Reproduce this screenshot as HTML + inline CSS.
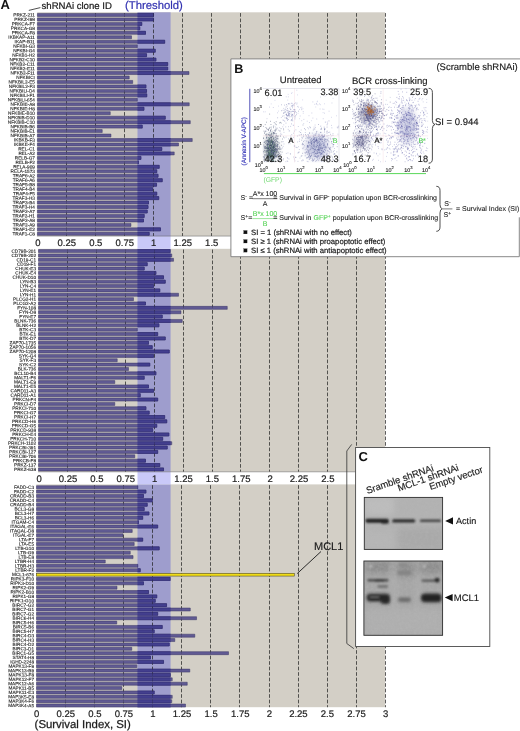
<!DOCTYPE html>
<html lang="en"><head><meta charset="utf-8"><title>Survival Index shRNAi screen</title>
<style>html,body{margin:0;padding:0;background:#fff}svg{display:block;opacity:0.999;font-family:"Liberation Sans",Arial,Helvetica,sans-serif;text-rendering:geometricPrecision}.rl{font-size:47.0px;fill:#222;stroke:#222;stroke-width:1.2px;text-anchor:end}.ax{font-size:9.5px;fill:#222;stroke:#222;stroke-width:0.2px;text-anchor:middle}.t95{font-size:9.5px;fill:#1a1a1a;stroke:#1a1a1a;stroke-width:0.15px}.f7{font-size:7px;fill:#1a1a1a;stroke:#1a1a1a;stroke-width:0.1px}.f75{font-size:7.7px;fill:#1a1a1a;stroke:#1a1a1a;stroke-width:0.2px}.tk{font-size:5.4px;fill:#222;stroke:#222;stroke-width:0.12px}.g{fill:#58d458;stroke:#58d458;stroke-width:0.1px}</style></head><body>
<svg width="520" height="731" viewBox="0 0 520 731">
<defs><filter id="b03" x="-5%" y="-5%" width="110%" height="110%"><feGaussianBlur stdDeviation="0.42"/></filter><filter id="b1" x="-20%" y="-50%" width="140%" height="200%"><feGaussianBlur stdDeviation="0.9"/></filter><filter id="b15" x="-20%" y="-60%" width="140%" height="220%"><feGaussianBlur stdDeviation="1.2"/></filter><filter id="nz" x="0" y="0" width="100%" height="100%"><feTurbulence type="fractalNoise" baseFrequency="0.35" numOctaves="2" seed="3" result="t"/><feColorMatrix type="matrix" values="0 0 0 0 0.5  0 0 0 0 0.5  0 0 0 0 0.5  0.9 0 0 0 -0.32"/><feGaussianBlur stdDeviation="0.5"/></filter><filter id="b2" x="-30%" y="-60%" width="160%" height="220%"><feGaussianBlur stdDeviation="1.6"/></filter><filter id="b3" x="-30%" y="-30%" width="160%" height="160%"><feGaussianBlur stdDeviation="3"/></filter><clipPath id="cband"><rect x="137.5" y="0" width="33.1" height="731"/></clipPath><clipPath id="cb1"><rect x="364.3" y="497.4" width="78.3" height="52"/></clipPath><clipPath id="cb2"><rect x="363.9" y="561" width="78.7" height="74.3"/></clipPath><clipPath id="cs1"><rect x="262.6" y="88.3" width="76.6" height="74.4"/></clipPath><clipPath id="cs2"><rect x="351.8" y="88.3" width="76.6" height="74.4"/></clipPath></defs>
<rect width="520" height="731" fill="#fff"/>
<rect x="37.2" y="12.3" width="347.9" height="223.7" fill="#d3cfc6"/>
<rect x="137.5" y="12.3" width="33.1" height="223.7" fill="#9e9dcd"/>
<path d="M66.5 13.1V236M95.5 13.1V236M124.5 13.1V236M153.5 13.1V236M182.5 13.1V236M211.5 13.1V236M240.5 13.1V236M269.5 13.1V236M298.5 13.1V236M327.5 13.1V236M356.5 13.1V236M385.5 13.1V236" stroke="#1c1c1c" stroke-width="1" stroke-dasharray="3.6 1.9" fill="none" opacity="0.62"/>
<path fill="#605a93" stroke="#3b3765" stroke-width="0.5" d="M37.4 13.45H153.52V16.45H37.4ZM37.4 17.92H153.52V20.92H37.4ZM37.4 22.38H141.77V25.38H37.4ZM37.4 26.85H139.79V29.85H37.4ZM37.4 31.32H145.49V34.32H37.4ZM37.4 35.78H131.53V38.78H37.4ZM37.4 40.25H164.68V43.25H37.4ZM37.4 44.72H137.23V47.72H37.4ZM37.4 49.19H155.26V52.19H37.4ZM37.4 53.65H146.54V56.65H37.4ZM37.4 58.12H155.96V61.12H37.4ZM37.4 62.59H167.7V65.59H37.4ZM37.4 67.05H167.7V70.05H37.4ZM37.4 71.52H188.99V74.52H37.4ZM37.4 75.99H129.21V78.99H37.4ZM37.4 80.45H132.7V83.45H37.4ZM37.4 84.92H145.96V87.92H37.4ZM37.4 89.39H146.54V92.39H37.4ZM37.4 93.86H146.77V96.86H37.4ZM37.4 98.32H137.23V101.32H37.4ZM37.4 102.79H189.22V105.79H37.4ZM37.4 107.26H143.98V110.26H37.4ZM37.4 111.72H110.25V114.72H37.4ZM37.4 116.19H165.26V119.19H37.4ZM37.4 120.66H190.27V123.66H37.4ZM37.4 125.12H142.23V128.12H37.4ZM37.4 129.59H102.23V132.59H37.4ZM37.4 134.06H110.95V137.06H37.4ZM37.4 138.53H192.24V141.53H37.4ZM37.4 142.99H178.52V145.99H37.4ZM37.4 147.46H161.77V150.46H37.4ZM37.4 151.93H174.22V154.93H37.4ZM37.4 156.39H140.95V159.39H37.4ZM37.4 160.86H138.51V163.86H37.4ZM37.4 165.33H159.21V168.33H37.4ZM37.4 169.79H156.77V172.79H37.4ZM37.4 174.26H158.05V177.26H37.4ZM37.4 178.73H162.24V181.73H37.4ZM37.4 183.2H156.54V186.2H37.4ZM37.4 187.66H152.7V190.66H37.4ZM37.4 192.13H156.77V195.13H37.4ZM37.4 196.6H158.75V199.6H37.4ZM37.4 201.06H148.51V204.06H37.4ZM37.4 205.53H148.05V208.53H37.4ZM37.4 210H147.23V213H37.4ZM37.4 214.46H144.21V217.46H37.4ZM37.4 218.93H143.51V221.93H37.4ZM37.4 223.4H130.95V226.4H37.4ZM37.4 227.87H160.49V230.87H37.4ZM37.4 232.33H149.21V235.33H37.4Z"/>
<path fill="#433f8e" stroke="#2c2972" stroke-width="0.5" clip-path="url(#cband)" d="M37.4 13.45H153.52V16.45H37.4ZM37.4 17.92H153.52V20.92H37.4ZM37.4 22.38H141.77V25.38H37.4ZM37.4 26.85H139.79V29.85H37.4ZM37.4 31.32H145.49V34.32H37.4ZM37.4 35.78H131.53V38.78H37.4ZM37.4 40.25H164.68V43.25H37.4ZM37.4 44.72H137.23V47.72H37.4ZM37.4 49.19H155.26V52.19H37.4ZM37.4 53.65H146.54V56.65H37.4ZM37.4 58.12H155.96V61.12H37.4ZM37.4 62.59H167.7V65.59H37.4ZM37.4 67.05H167.7V70.05H37.4ZM37.4 71.52H188.99V74.52H37.4ZM37.4 75.99H129.21V78.99H37.4ZM37.4 80.45H132.7V83.45H37.4ZM37.4 84.92H145.96V87.92H37.4ZM37.4 89.39H146.54V92.39H37.4ZM37.4 93.86H146.77V96.86H37.4ZM37.4 98.32H137.23V101.32H37.4ZM37.4 102.79H189.22V105.79H37.4ZM37.4 107.26H143.98V110.26H37.4ZM37.4 111.72H110.25V114.72H37.4ZM37.4 116.19H165.26V119.19H37.4ZM37.4 120.66H190.27V123.66H37.4ZM37.4 125.12H142.23V128.12H37.4ZM37.4 129.59H102.23V132.59H37.4ZM37.4 134.06H110.95V137.06H37.4ZM37.4 138.53H192.24V141.53H37.4ZM37.4 142.99H178.52V145.99H37.4ZM37.4 147.46H161.77V150.46H37.4ZM37.4 151.93H174.22V154.93H37.4ZM37.4 156.39H140.95V159.39H37.4ZM37.4 160.86H138.51V163.86H37.4ZM37.4 165.33H159.21V168.33H37.4ZM37.4 169.79H156.77V172.79H37.4ZM37.4 174.26H158.05V177.26H37.4ZM37.4 178.73H162.24V181.73H37.4ZM37.4 183.2H156.54V186.2H37.4ZM37.4 187.66H152.7V190.66H37.4ZM37.4 192.13H156.77V195.13H37.4ZM37.4 196.6H158.75V199.6H37.4ZM37.4 201.06H148.51V204.06H37.4ZM37.4 205.53H148.05V208.53H37.4ZM37.4 210H147.23V213H37.4ZM37.4 214.46H144.21V217.46H37.4ZM37.4 218.93H143.51V221.93H37.4ZM37.4 223.4H130.95V226.4H37.4ZM37.4 227.87H160.49V230.87H37.4ZM37.4 232.33H149.21V235.33H37.4Z"/>
<path d="M66.5 13.1V236M95.5 13.1V236M124.5 13.1V236M153.5 13.1V236M182.5 13.1V236M211.5 13.1V236M240.5 13.1V236M269.5 13.1V236M298.5 13.1V236M327.5 13.1V236M356.5 13.1V236M385.5 13.1V236" stroke="#1c1c1c" stroke-width="1" stroke-dasharray="3.6 1.9" fill="none" opacity="0.22"/>
<g class="rl" transform="matrix(0.1 0.0005 0 0.1 0 -0.13)">
<text x="349" y="165.5">PRKZ-211</text>
<text x="349" y="210.17">PRKZ-I98</text>
<text x="349" y="254.84">PRKCA-F7</text>
<text x="349" y="299.51">PRKCA-G8</text>
<text x="349" y="344.18">PRKCA-F8</text>
<text x="349" y="388.85">IKBKAP-A11</text>
<text x="349" y="433.52">IKAP-B11</text>
<text x="349" y="478.19">NFKBI-G3</text>
<text x="349" y="522.86">NFKBI-G4</text>
<text x="349" y="567.53">NFKB1-H2</text>
<text x="349" y="612.2">NFKB2-C10</text>
<text x="349" y="656.87">NFKB2-C11</text>
<text x="349" y="701.54">NFKB2-E11</text>
<text x="349" y="746.21">NFKB2-F11</text>
<text x="349" y="790.88">NFKBICI</text>
<text x="349" y="835.55">NFKBIL2-E5</text>
<text x="349" y="880.22">NFKBIL2-F3</text>
<text x="349" y="924.89">NFKBILI-D4</text>
<text x="349" y="969.56">NFKBILI-F1</text>
<text x="349" y="1014.23">NFKBILI-654</text>
<text x="349" y="1058.9">NFKBIE-A8</text>
<text x="349" y="1103.57">NFKBIE-H8</text>
<text x="349" y="1148.24">NFKBIE-B10</text>
<text x="349" y="1192.91">NFKBIB-D10</text>
<text x="349" y="1237.58">NFKBIB-C10</text>
<text x="349" y="1282.25">NFKBIB-B6</text>
<text x="349" y="1326.92">NFKBIB-E1</text>
<text x="349" y="1371.59">NFKBIB-A7</text>
<text x="349" y="1416.26">IKBKB-F3</text>
<text x="349" y="1460.93">IKBKE-F4</text>
<text x="349" y="1505.6">REL-C1</text>
<text x="349" y="1550.27">REL-A2</text>
<text x="349" y="1594.94">RELB-G7</text>
<text x="349" y="1639.61">RELB-F2</text>
<text x="349" y="1684.28">RELA-909</text>
<text x="349" y="1728.95">RELA-1573</text>
<text x="349" y="1773.62">TRAF6-A2</text>
<text x="349" y="1818.29">TRAF6-A6</text>
<text x="349" y="1862.96">TRAF5-B8</text>
<text x="349" y="1907.63">TRAF4-B4</text>
<text x="349" y="1952.3">TRAF4-F5</text>
<text x="349" y="1996.97">TRAF3-H3</text>
<text x="349" y="2041.64">TRAF3-B4</text>
<text x="349" y="2086.31">TRAF3-H4</text>
<text x="349" y="2130.98">TRAF2-A7</text>
<text x="349" y="2175.65">TRAF2-H1</text>
<text x="349" y="2220.32">TRAF2-A8</text>
<text x="349" y="2264.99">TRAF2-A9</text>
<text x="349" y="2309.66">TRAF1-E2</text>
<text x="349" y="2354.33">TRAF1-C8</text>
</g>
<rect x="38.3" y="248.8" width="346.8" height="222.9" fill="#d3cfc6"/>
<rect x="137.5" y="248.8" width="33.1" height="222.9" fill="#9e9dcd"/>
<path d="M67.5 249.6V471.7M96.5 249.6V471.7M125.5 249.6V471.7M154.5 249.6V471.7M183.5 249.6V471.7M212.5 249.6V471.7M240.5 249.6V471.7M269.5 249.6V471.7M298.5 249.6V471.7M327.5 249.6V471.7M356.5 249.6V471.7M385.5 249.6V471.7" stroke="#1c1c1c" stroke-width="1" stroke-dasharray="3.6 1.9" fill="none" opacity="0.62"/>
<path fill="#605a93" stroke="#3b3765" stroke-width="0.5" d="M38.5 249.6H170.26V252.6H38.5ZM38.5 253.97H171.77V256.97H38.5ZM38.5 258.33H173.52V261.33H38.5ZM38.5 262.7H147.23V265.7H38.5ZM38.5 267.06H144.21V270.06H38.5ZM38.5 271.43H155.96V274.43H38.5ZM38.5 275.8H163.52V278.8H38.5ZM38.5 280.16H165.26V283.16H38.5ZM38.5 284.53H153.52V287.53H38.5ZM38.5 288.89H159.8V291.89H38.5ZM38.5 293.26H178.52V296.26H38.5ZM38.5 297.63H133.51V300.63H38.5ZM38.5 301.99H145.49V304.99H38.5ZM38.5 306.36H227.25V309.36H38.5ZM38.5 310.72H180.96V313.72H38.5ZM38.5 315.09H162.24V318.09H38.5ZM38.5 319.46H182.24V322.46H38.5ZM38.5 323.82H158.98V326.82H38.5ZM38.5 328.19H137.23V331.19H38.5ZM38.5 332.55H157.7V335.55H38.5ZM38.5 336.92H165.26V339.92H38.5ZM38.5 341.29H148.51V344.29H38.5ZM38.5 345.65H152.24V348.65H38.5ZM38.5 350.02H169.22V353.02H38.5ZM38.5 354.38H153.52V357.38H38.5ZM38.5 358.75H117.23V361.75H38.5ZM38.5 363.12H149.79V366.12H38.5ZM38.5 367.48H128.51V370.48H38.5ZM38.5 371.85H155.96V374.85H38.5ZM38.5 376.21H144.21V379.21H38.5ZM38.5 380.58H114.79V383.58H38.5ZM38.5 384.95H148.51V387.95H38.5ZM38.5 389.31H153.52V392.31H38.5ZM38.5 393.68H140.26V396.68H38.5ZM38.5 398.04H157.7V401.04H38.5ZM38.5 402.41H114.79V405.41H38.5ZM38.5 406.78H145.96V409.78H38.5ZM38.5 411.14H149.21V414.14H38.5ZM38.5 415.51H164.68V418.51H38.5ZM38.5 419.87H166.77V422.87H38.5ZM38.5 424.24H156.77V427.24H38.5ZM38.5 428.61H152.7V431.61H38.5ZM38.5 432.97H168.87V435.97H38.5ZM38.5 437.34H162.7V440.34H38.5ZM38.5 441.7H171.77V444.7H38.5ZM38.5 446.07H167.24V449.07H38.5ZM38.5 450.44H157.7V453.44H38.5ZM38.5 454.8H134.79V457.8H38.5ZM38.5 459.17H145.49V462.17H38.5ZM38.5 463.53H159.8V466.53H38.5ZM38.5 467.9H163.52V470.9H38.5Z"/>
<path fill="#433f8e" stroke="#2c2972" stroke-width="0.5" clip-path="url(#cband)" d="M38.5 249.6H170.26V252.6H38.5ZM38.5 253.97H171.77V256.97H38.5ZM38.5 258.33H173.52V261.33H38.5ZM38.5 262.7H147.23V265.7H38.5ZM38.5 267.06H144.21V270.06H38.5ZM38.5 271.43H155.96V274.43H38.5ZM38.5 275.8H163.52V278.8H38.5ZM38.5 280.16H165.26V283.16H38.5ZM38.5 284.53H153.52V287.53H38.5ZM38.5 288.89H159.8V291.89H38.5ZM38.5 293.26H178.52V296.26H38.5ZM38.5 297.63H133.51V300.63H38.5ZM38.5 301.99H145.49V304.99H38.5ZM38.5 306.36H227.25V309.36H38.5ZM38.5 310.72H180.96V313.72H38.5ZM38.5 315.09H162.24V318.09H38.5ZM38.5 319.46H182.24V322.46H38.5ZM38.5 323.82H158.98V326.82H38.5ZM38.5 328.19H137.23V331.19H38.5ZM38.5 332.55H157.7V335.55H38.5ZM38.5 336.92H165.26V339.92H38.5ZM38.5 341.29H148.51V344.29H38.5ZM38.5 345.65H152.24V348.65H38.5ZM38.5 350.02H169.22V353.02H38.5ZM38.5 354.38H153.52V357.38H38.5ZM38.5 358.75H117.23V361.75H38.5ZM38.5 363.12H149.79V366.12H38.5ZM38.5 367.48H128.51V370.48H38.5ZM38.5 371.85H155.96V374.85H38.5ZM38.5 376.21H144.21V379.21H38.5ZM38.5 380.58H114.79V383.58H38.5ZM38.5 384.95H148.51V387.95H38.5ZM38.5 389.31H153.52V392.31H38.5ZM38.5 393.68H140.26V396.68H38.5ZM38.5 398.04H157.7V401.04H38.5ZM38.5 402.41H114.79V405.41H38.5ZM38.5 406.78H145.96V409.78H38.5ZM38.5 411.14H149.21V414.14H38.5ZM38.5 415.51H164.68V418.51H38.5ZM38.5 419.87H166.77V422.87H38.5ZM38.5 424.24H156.77V427.24H38.5ZM38.5 428.61H152.7V431.61H38.5ZM38.5 432.97H168.87V435.97H38.5ZM38.5 437.34H162.7V440.34H38.5ZM38.5 441.7H171.77V444.7H38.5ZM38.5 446.07H167.24V449.07H38.5ZM38.5 450.44H157.7V453.44H38.5ZM38.5 454.8H134.79V457.8H38.5ZM38.5 459.17H145.49V462.17H38.5ZM38.5 463.53H159.8V466.53H38.5ZM38.5 467.9H163.52V470.9H38.5Z"/>
<path d="M67.5 249.6V471.7M96.5 249.6V471.7M125.5 249.6V471.7M154.5 249.6V471.7M183.5 249.6V471.7M212.5 249.6V471.7M240.5 249.6V471.7M269.5 249.6V471.7M298.5 249.6V471.7M327.5 249.6V471.7M356.5 249.6V471.7M385.5 249.6V471.7" stroke="#1c1c1c" stroke-width="1" stroke-dasharray="3.6 1.9" fill="none" opacity="0.22"/>
<g class="rl" transform="matrix(0.1 0.0005 0 0.1 0 -0.13)">
<text x="360" y="2527">CD79B-201</text>
<text x="360" y="2570.66">CD79B-202</text>
<text x="360" y="2614.32">CD19-C1</text>
<text x="360" y="2657.98">CD19-F1</text>
<text x="360" y="2701.64">CHUK-E3</text>
<text x="360" y="2745.3">CHUK-E4</text>
<text x="360" y="2788.96">CHUK-D10</text>
<text x="360" y="2832.62">LYN-B3</text>
<text x="360" y="2876.28">LYN-C4</text>
<text x="360" y="2919.94">LYN-E1</text>
<text x="360" y="2963.6">LYN-H1</text>
<text x="360" y="3007.26">PLCG2-H1</text>
<text x="360" y="3050.92">PLCG2-A2</text>
<text x="360" y="3094.58">FYN-108</text>
<text x="360" y="3138.24">FYN-D8</text>
<text x="360" y="3181.9">FYN-E7</text>
<text x="360" y="3225.56">BLNK-736</text>
<text x="360" y="3269.22">BLNK-H2</text>
<text x="360" y="3312.88">BTK-C3</text>
<text x="360" y="3356.54">BTK-E1</text>
<text x="360" y="3400.2">BTK-D7</text>
<text x="360" y="3443.86">ZAP70-1735</text>
<text x="360" y="3487.52">ZAP70-1056</text>
<text x="360" y="3531.18">ZAP70-1208</text>
<text x="360" y="3574.84">SYK-G4</text>
<text x="360" y="3618.5">SYK-F3</text>
<text x="360" y="3662.16">SYK-C2</text>
<text x="360" y="3705.82">BLK-736</text>
<text x="360" y="3749.48">BCL10-B4</text>
<text x="360" y="3793.14">MALT1-F6</text>
<text x="360" y="3836.8">MALT1-E9</text>
<text x="360" y="3880.46">MALT1-E5</text>
<text x="360" y="3924.12">CARD11-A3</text>
<text x="360" y="3967.78">CARD11-A1</text>
<text x="360" y="4011.44">PRKCN-F4</text>
<text x="360" y="4055.1">PRKCI-D7</text>
<text x="360" y="4098.76">PRKCI-710</text>
<text x="360" y="4142.42">PRKCI-G7</text>
<text x="360" y="4186.08">PRKCI-H7</text>
<text x="360" y="4229.74">PRKCD-H6</text>
<text x="360" y="4273.4">PRKCD-G5</text>
<text x="360" y="4317.06">PRKCD-938</text>
<text x="360" y="4360.72">PRKCH-E4</text>
<text x="360" y="4404.38">PRKCH-710</text>
<text x="360" y="4448.04">PRKCH-1102</text>
<text x="360" y="4491.7">PRKCBI-391</text>
<text x="360" y="4535.36">PRKCBI-127</text>
<text x="360" y="4579.02">PRKCBI-706</text>
<text x="360" y="4622.68">PRKCB-F8</text>
<text x="360" y="4666.34">PRKZ-137</text>
<text x="360" y="4710">PRKZ-638</text>
</g>
<rect x="36.3" y="484.4" width="348.8" height="222.8" fill="#d3cfc6"/>
<rect x="137.5" y="484.4" width="33.1" height="222.8" fill="#9e9dcd"/>
<path d="M65.5 485.2V707.2M94.5 485.2V707.2M123.5 485.2V707.2M152.5 485.2V707.2M181.5 485.2V707.2M210.5 485.2V707.2M239.5 485.2V707.2M269.5 485.2V707.2M298.5 485.2V707.2M327.5 485.2V707.2M356.5 485.2V707.2M385.5 485.2V707.2" stroke="#1c1c1c" stroke-width="1" stroke-dasharray="3.6 1.9" fill="none" opacity="0.62"/>
<path fill="#605a93" stroke="#3b3765" stroke-width="0.5" d="M36.5 485.75H137.7V488.75H36.5ZM36.5 490.12H145.96V493.12H36.5ZM36.5 494.48H143.51V497.48H36.5ZM36.5 498.85H152.24V501.85H36.5ZM36.5 503.21H147.23V506.21H36.5ZM36.5 507.58H144.21V510.58H36.5ZM36.5 511.95H148.98V514.95H36.5ZM36.5 516.31H142.7V519.31H36.5ZM36.5 520.68H138.51V523.68H36.5ZM36.5 525.04H157.7V528.04H36.5ZM36.5 529.41H132.23V532.41H36.5ZM36.5 533.78H123.04V536.78H36.5ZM36.5 538.14H142.7V541.14H36.5ZM36.5 542.51H134.21V545.51H36.5ZM36.5 546.87H159.21V549.87H36.5ZM36.5 551.24H130.26V554.24H36.5ZM36.5 555.61H133.05V558.61H36.5ZM36.5 559.97H105.25V562.97H36.5ZM36.5 564.34H137.7V567.34H36.5ZM36.5 568.7H140.26V571.7H36.5ZM36.5 577.44H170.26V580.44H36.5ZM36.5 581.8H143.51V584.8H36.5ZM36.5 586.17H117V589.17H36.5ZM36.5 590.53H148.51V593.53H36.5ZM36.5 594.9H156.77V597.9H36.5ZM36.5 599.27H155.26V602.27H36.5ZM36.5 603.63H166.54V606.63H36.5ZM36.5 608H190.27V611H36.5ZM36.5 612.36H157.7V615.36H36.5ZM36.5 616.73H196.55V619.73H36.5ZM36.5 621.1H116.76V624.1H36.5ZM36.5 625.46H162.24V628.46H36.5ZM36.5 629.83H154.21V632.83H36.5ZM36.5 634.19H194.8V637.19H36.5ZM36.5 638.56H174.8V641.56H36.5ZM36.5 642.93H169.22V645.93H36.5ZM36.5 647.29H131.77V650.29H36.5ZM36.5 651.66H228.53V654.66H36.5ZM36.5 656.02H150.49V659.02H36.5ZM36.5 660.39H163.52V663.39H36.5ZM36.5 664.76H136.77V667.76H36.5ZM36.5 669.12H189.8V672.12H36.5ZM36.5 673.49H170.49V676.49H36.5ZM36.5 677.85H172.24V680.85H36.5ZM36.5 682.22H187.24V685.22H36.5ZM36.5 686.59H121.77V689.59H36.5ZM36.5 690.95H154.21V693.95H36.5ZM36.5 695.32H172.24V698.32H36.5ZM36.5 699.68H171.77V702.68H36.5ZM36.5 704.05H185.5V707.05H36.5Z"/>
<path fill="#433f8e" stroke="#2c2972" stroke-width="0.5" clip-path="url(#cband)" d="M36.5 485.75H137.7V488.75H36.5ZM36.5 490.12H145.96V493.12H36.5ZM36.5 494.48H143.51V497.48H36.5ZM36.5 498.85H152.24V501.85H36.5ZM36.5 503.21H147.23V506.21H36.5ZM36.5 507.58H144.21V510.58H36.5ZM36.5 511.95H148.98V514.95H36.5ZM36.5 516.31H142.7V519.31H36.5ZM36.5 520.68H138.51V523.68H36.5ZM36.5 525.04H157.7V528.04H36.5ZM36.5 529.41H132.23V532.41H36.5ZM36.5 533.78H123.04V536.78H36.5ZM36.5 538.14H142.7V541.14H36.5ZM36.5 542.51H134.21V545.51H36.5ZM36.5 546.87H159.21V549.87H36.5ZM36.5 551.24H130.26V554.24H36.5ZM36.5 555.61H133.05V558.61H36.5ZM36.5 559.97H105.25V562.97H36.5ZM36.5 564.34H137.7V567.34H36.5ZM36.5 568.7H140.26V571.7H36.5ZM36.5 577.44H170.26V580.44H36.5ZM36.5 581.8H143.51V584.8H36.5ZM36.5 586.17H117V589.17H36.5ZM36.5 590.53H148.51V593.53H36.5ZM36.5 594.9H156.77V597.9H36.5ZM36.5 599.27H155.26V602.27H36.5ZM36.5 603.63H166.54V606.63H36.5ZM36.5 608H190.27V611H36.5ZM36.5 612.36H157.7V615.36H36.5ZM36.5 616.73H196.55V619.73H36.5ZM36.5 621.1H116.76V624.1H36.5ZM36.5 625.46H162.24V628.46H36.5ZM36.5 629.83H154.21V632.83H36.5ZM36.5 634.19H194.8V637.19H36.5ZM36.5 638.56H174.8V641.56H36.5ZM36.5 642.93H169.22V645.93H36.5ZM36.5 647.29H131.77V650.29H36.5ZM36.5 651.66H228.53V654.66H36.5ZM36.5 656.02H150.49V659.02H36.5ZM36.5 660.39H163.52V663.39H36.5ZM36.5 664.76H136.77V667.76H36.5ZM36.5 669.12H189.8V672.12H36.5ZM36.5 673.49H170.49V676.49H36.5ZM36.5 677.85H172.24V680.85H36.5ZM36.5 682.22H187.24V685.22H36.5ZM36.5 686.59H121.77V689.59H36.5ZM36.5 690.95H154.21V693.95H36.5ZM36.5 695.32H172.24V698.32H36.5ZM36.5 699.68H171.77V702.68H36.5ZM36.5 704.05H185.5V707.05H36.5Z"/>
<path d="M65.5 485.2V707.2M94.5 485.2V707.2M123.5 485.2V707.2M152.5 485.2V707.2M181.5 485.2V707.2M210.5 485.2V707.2M239.5 485.2V707.2M269.5 485.2V707.2M298.5 485.2V707.2M327.5 485.2V707.2M356.5 485.2V707.2M385.5 485.2V707.2" stroke="#1c1c1c" stroke-width="1" stroke-dasharray="3.6 1.9" fill="none" opacity="0.22"/>
<rect x="36.3" y="573.37" width="257.96" height="2.7" fill="#f0dc18" stroke="#4a4420" stroke-width="0.55"/>
<g class="rl" transform="matrix(0.1 0.0005 0 0.1 0 -0.13)">
<text x="340" y="4888.5">FADD-C3</text>
<text x="340" y="4932.16">FADD-C2</text>
<text x="340" y="4975.82">CRADD-B3</text>
<text x="340" y="5019.48">CRADD-C4</text>
<text x="340" y="5063.14">CRADD-B4</text>
<text x="340" y="5106.8">BCL3-G8</text>
<text x="340" y="5150.46">BCL3-H7</text>
<text x="340" y="5194.12">BCL3-H6</text>
<text x="340" y="5237.78">ITGAM-C4</text>
<text x="340" y="5281.44">ITAGAL-E6</text>
<text x="340" y="5325.1">ITAGAL-D8</text>
<text x="340" y="5368.76">ITGAL-E7</text>
<text x="340" y="5412.42">LTA-F7</text>
<text x="340" y="5456.08">LTA-E5</text>
<text x="340" y="5499.74">LTB-G10</text>
<text x="340" y="5543.4">LTB-G9</text>
<text x="340" y="5587.06">LTB-E8</text>
<text x="340" y="5630.72">LTBR-H4</text>
<text x="340" y="5674.38">LTBR-H3</text>
<text x="340" y="5718.04">LTBR-F2</text>
<text x="340" y="5761.7">MCL1-676</text>
<text x="340" y="5805.36">RIPK3-F10</text>
<text x="340" y="5849.02">RIPK3-D10</text>
<text x="340" y="5892.68">RIPK2-G9</text>
<text x="340" y="5936.34">RIPK2-B10</text>
<text x="340" y="5980">RIPK1-G8</text>
<text x="340" y="6023.66">RIPK1-G10</text>
<text x="340" y="6067.32">BIRC7-G2</text>
<text x="340" y="6110.98">BIRC7-G1</text>
<text x="340" y="6154.64">BIRC7-G2</text>
<text x="340" y="6198.3">BIRC6-H4</text>
<text x="340" y="6241.96">BIRC5-H6</text>
<text x="340" y="6285.62">BIRC5-B6</text>
<text x="340" y="6329.28">BIRC5-H7</text>
<text x="340" y="6372.94">BIRC4-D3</text>
<text x="340" y="6416.6">BIRC4-H3</text>
<text x="340" y="6460.26">BIRC4-D2</text>
<text x="340" y="6503.92">BIRC3-D1</text>
<text x="340" y="6547.58">BIRC1-G5</text>
<text x="340" y="6591.24">STAT4-H8</text>
<text x="340" y="6634.9">IGHD-2248</text>
<text x="340" y="6678.56">MAPK13-F9</text>
<text x="340" y="6722.22">MAPK13-B9</text>
<text x="340" y="6765.88">MAPK13-F8</text>
<text x="340" y="6809.54">MAPK12-F7</text>
<text x="340" y="6853.2">MAPK12-A6</text>
<text x="340" y="6896.86">MAPK11-B5</text>
<text x="340" y="6940.52">MAPK11-E3</text>
<text x="340" y="6984.18">MAP3K5-E8</text>
<text x="340" y="7027.84">MAP3K4-F6</text>
<text x="340" y="7071.5">MAP3K4-A5</text>
</g>
<rect x="137.5" y="236" width="33.1" height="12.8" fill="#c9c9f8"/>
<rect x="137.5" y="471.7" width="33.1" height="12.7" fill="#c9c9f8"/>
<path d="M37 236.1H231M38 471.8H356" stroke="#5a5a5a" stroke-width="0.5" fill="none"/>
<g class="ax">
<text x="37.8" y="246">0</text>
<text x="66.78" y="246">0.25</text>
<text x="95.77" y="246">0.5</text>
<text x="124.75" y="246">0.75</text>
<text x="153.74" y="246">1</text>
<text x="182.73" y="246">1.25</text>
<text x="211.71" y="246">1.5</text>
</g>
<g class="ax">
<text x="39.1" y="482.3">0</text>
<text x="67.97" y="482.3">0.25</text>
<text x="96.85" y="482.3">0.5</text>
<text x="125.72" y="482.3">0.75</text>
<text x="154.6" y="482.3">1</text>
<text x="183.48" y="482.3">1.25</text>
<text x="212.35" y="482.3">1.5</text>
<text x="241.23" y="482.3">1.75</text>
<text x="270.1" y="482.3">2</text>
<text x="298.98" y="482.3">2.25</text>
<text x="327.85" y="482.3">2.5</text>
</g>
<g class="ax">
<text x="36.7" y="717.1">0</text>
<text x="65.77" y="717.1">0.25</text>
<text x="94.85" y="717.1">0.5</text>
<text x="123.92" y="717.1">0.75</text>
<text x="153" y="717.1">1</text>
<text x="182.08" y="717.1">1.25</text>
<text x="211.15" y="717.1">1.5</text>
<text x="240.23" y="717.1">1.75</text>
<text x="269.3" y="717.1">2</text>
<text x="298.38" y="717.1">2.25</text>
<text x="327.45" y="717.1">2.5</text>
<text x="356.52" y="717.1">2.75</text>
<text x="385.6" y="717.1">3</text>
</g>
<text x="0.6" y="8.9" font-size="13px" font-weight="bold" fill="#111">A</text>
<text x="41.5" y="9.2" font-size="9.6px" fill="#1a1a1a" stroke="#1a1a1a" stroke-width="0.2">shRNAi clone ID</text>
<path d="M28.8 10.4L40.4 7.6" stroke="#222" stroke-width="0.8"/>
<text x="125" y="8.9" font-size="11.3px" fill="#3030b0" stroke="#3030b0" stroke-width="0.2">(Threshold)</text>
<text x="34.6" y="728.3" font-size="11.4px" fill="#1a1a1a" stroke="#1a1a1a" stroke-width="0.25">(Survival Index, SI)</text>
<path d="M297.2 573.6L321 551.5" stroke="#222" stroke-width="0.95"/>
<text x="314" y="550.4" font-size="11px" fill="#1a1a1a" stroke="#1a1a1a" stroke-width="0.15">MCL1</text>
<rect x="230.9" y="58.9" width="289.6" height="197.8" fill="#fff"/><path d="M520.5 58.9H230.9V256.7H519.3V217.3" fill="none" stroke="#7c7c7c" stroke-width="0.9"/>
<text x="234.2" y="73.1" font-size="12.6px" font-weight="bold" fill="#111">B</text>
<text x="436.4" y="70" class="t95">(Scramble shRNAi)</text>
<text x="279.8" y="83.4" class="t95">Untreated</text>
<text x="352" y="84.4" class="t95">BCR cross-linking</text>
<g clip-path="url(#cs1)">
<g filter="url(#b3)" opacity="0.5"><ellipse cx="271" cy="148" rx="6" ry="12" fill="#4a5a6a"/><ellipse cx="317" cy="147" rx="11" ry="12" fill="#8a8fc0"/></g>
<g filter="url(#b03)">
<path d="M269.9 153.6h0.75M270.0 145.3h0.75M266.9 146.4h0.75M275.9 152.7h0.75M275.6 151.0h0.75M272.7 150.4h0.75M263.7 157.1h0.75M273.2 153.5h0.75M263.6 131.1h0.75M267.1 143.8h0.75M272.3 148.0h0.75M273.3 142.1h0.75M272.4 152.4h0.75M273.4 160.5h0.75M268.3 141.1h0.75M269.5 147.4h0.75M273.8 151.0h0.75M269.0 138.9h0.75M268.7 160.7h0.75M267.4 150.9h0.75M272.9 133.6h0.75M271.2 161.6h0.75M270.5 140.3h0.75M273.2 147.9h0.75M264.6 156.8h0.75M273.9 158.0h0.75M277.3 152.1h0.75M271.5 135.5h0.75M273.7 142.4h0.75M269.0 135.9h0.75M266.7 143.2h0.75M276.7 128.2h0.75M264.6 150.9h0.75M277.4 154.3h0.75M272.6 141.1h0.75M266.1 158.3h0.75M275.8 150.1h0.75M272.1 152.8h0.75M278.0 154.7h0.75M273.3 154.0h0.75M264.1 161.3h0.75M275.2 153.8h0.75M274.7 130.4h0.75M270.2 158.7h0.75M273.4 147.0h0.75M272.4 155.0h0.75M271.5 160.0h0.75M268.1 144.4h0.75M275.6 148.8h0.75M267.1 158.0h0.75M277.4 144.1h0.75M264.9 147.2h0.75M270.3 145.5h0.75M277.2 138.2h0.75M276.5 135.8h0.75M267.5 154.8h0.75M276.0 157.1h0.75M272.5 149.9h0.75M271.7 154.3h0.75M270.2 151.3h0.75M273.5 148.5h0.75M274.4 154.2h0.75M279.8 151.7h0.75M269.1 144.8h0.75M270.9 157.7h0.75M269.5 152.4h0.75M279.1 122.9h0.75M266.1 150.9h0.75M272.8 150.9h0.75M269.1 155.1h0.75M272.2 143.3h0.75M281.7 152.1h0.75M268.6 147.5h0.75M270.0 147.9h0.75M275.4 136.8h0.75M270.7 158.0h0.75M263.5 145.0h0.75M269.5 154.7h0.75M275.8 121.7h0.75M275.8 134.0h0.75M274.0 133.6h0.75M271.8 160.4h0.75M270.3 150.4h0.75M274.5 149.9h0.75M275.6 145.6h0.75M283.1 137.0h0.75M275.0 145.8h0.75M271.6 155.6h0.75M272.0 154.9h0.75M264.3 133.4h0.75M273.7 138.9h0.75M266.5 133.8h0.75M276.6 156.0h0.75M277.5 139.1h0.75M271.0 137.1h0.75M275.3 146.7h0.75M270.6 142.5h0.75M272.8 152.6h0.75M277.6 138.3h0.75M277.4 146.7h0.75M267.7 158.7h0.75M271.5 149.7h0.75M277.3 145.9h0.75M262.8 156.7h0.75M272.4 142.4h0.75M271.0 156.8h0.75M271.3 161.8h0.75M270.7 158.9h0.75M268.0 157.3h0.75M265.6 148.4h0.75M270.2 148.2h0.75M268.4 150.8h0.75M278.9 148.9h0.75M273.3 158.5h0.75M270.1 135.9h0.75M268.6 159.2h0.75M263.8 142.5h0.75M275.4 156.4h0.75M271.0 156.6h0.75M271.7 136.7h0.75M264.1 142.1h0.75M275.1 142.8h0.75M267.0 140.8h0.75M264.3 147.3h0.75M265.8 152.1h0.75M268.2 129.1h0.75M274.2 145.7h0.75M272.3 143.9h0.75M274.4 156.0h0.75M273.9 151.8h0.75M276.9 155.1h0.75M273.0 127.7h0.75M274.9 161.6h0.75M269.7 143.8h0.75M279.5 130.9h0.75M266.9 155.4h0.75M279.3 147.3h0.75M273.5 157.5h0.75M267.0 147.6h0.75M272.3 156.8h0.75M270.8 146.5h0.75M266.5 144.9h0.75M274.9 149.5h0.75M267.2 140.1h0.75M282.7 159.9h0.75M273.8 122.6h0.75M273.7 153.3h0.75M278.4 152.8h0.75M270.7 153.7h0.75M272.4 141.5h0.75M264.8 141.8h0.75M272.3 150.3h0.75M269.2 138.8h0.75M280.3 158.9h0.75M265.7 135.0h0.75M278.5 158.4h0.75M279.0 156.6h0.75M267.2 151.1h0.75M270.7 153.7h0.75M267.8 147.3h0.75M273.0 152.3h0.75M273.8 150.6h0.75M269.6 156.4h0.75M271.2 140.2h0.75M268.2 148.5h0.75M270.5 150.1h0.75M271.0 150.3h0.75M270.4 135.9h0.75M272.9 159.0h0.75M272.9 146.6h0.75M273.0 138.8h0.75M266.9 155.9h0.75M266.2 122.2h0.75M269.3 134.8h0.75M267.6 153.7h0.75M273.2 150.3h0.75M277.5 155.6h0.75M270.9 154.5h0.75M278.3 158.2h0.75M275.5 137.7h0.75M270.3 155.8h0.75M269.7 159.2h0.75M273.6 157.6h0.75M276.5 146.3h0.75M269.5 157.2h0.75M275.3 148.6h0.75M265.9 150.4h0.75M272.6 159.8h0.75M274.4 148.7h0.75M274.8 153.9h0.75M271.9 149.1h0.75M269.9 155.4h0.75M266.4 142.2h0.75M271.0 133.9h0.75M269.1 128.4h0.75M268.0 154.2h0.75M273.5 148.0h0.75M270.0 134.3h0.75M279.0 153.7h0.75M275.8 139.7h0.75M270.2 130.3h0.75M274.4 157.9h0.75M273.8 130.9h0.75M263.0 137.8h0.75M268.2 134.5h0.75M271.1 151.0h0.75M273.8 155.5h0.75M277.6 160.1h0.75M265.2 143.4h0.75M266.3 137.7h0.75M270.6 148.6h0.75M273.2 132.6h0.75M265.6 148.3h0.75M270.1 145.4h0.75M270.7 140.9h0.75M274.1 152.0h0.75M270.6 141.8h0.75M270.2 121.3h0.75M266.7 148.9h0.75M264.4 150.5h0.75M271.6 134.7h0.75M269.9 145.4h0.75M273.0 154.6h0.75M270.8 140.0h0.75M270.4 147.8h0.75M274.2 151.4h0.75M267.8 135.0h0.75M269.4 141.1h0.75M266.1 147.3h0.75M268.8 149.6h0.75M273.3 144.4h0.75M281.2 145.3h0.75M275.8 149.7h0.75M275.9 124.7h0.75M267.7 151.0h0.75M272.4 161.3h0.75M274.4 158.0h0.75M273.2 146.9h0.75M273.2 137.7h0.75M276.2 138.3h0.75M270.0 148.7h0.75M276.1 148.8h0.75M267.4 151.1h0.75M273.6 155.6h0.75M278.3 148.7h0.75M272.2 144.2h0.75M277.2 141.5h0.75M274.0 143.7h0.75M267.9 155.7h0.75M276.9 148.4h0.75M268.0 156.6h0.75M270.8 151.6h0.75M277.7 159.8h0.75M271.0 156.4h0.75M268.2 148.1h0.75M277.0 136.3h0.75M264.4 132.3h0.75M276.2 143.9h0.75M270.7 145.4h0.75M270.5 137.6h0.75M271.1 134.1h0.75M270.7 151.6h0.75M273.1 146.2h0.75M267.0 150.1h0.75M274.4 147.3h0.75M268.9 141.5h0.75M266.9 145.0h0.75M272.3 153.7h0.75M267.9 148.6h0.75M283.3 129.8h0.75M268.7 150.2h0.75M271.7 152.6h0.75M269.9 152.2h0.75M271.2 156.2h0.75M271.0 138.2h0.75M266.4 154.8h0.75M268.1 154.8h0.75M274.3 151.6h0.75M273.2 147.5h0.75M264.8 148.2h0.75M273.0 143.2h0.75M270.6 156.0h0.75M267.1 154.9h0.75M279.2 143.0h0.75M271.6 147.0h0.75M277.8 151.7h0.75M275.0 141.6h0.75M270.9 148.4h0.75M275.0 131.0h0.75M274.3 147.2h0.75M273.0 152.2h0.75M264.4 146.4h0.75M277.6 142.8h0.75M266.5 134.9h0.75M265.6 151.9h0.75M278.4 152.8h0.75M268.7 141.8h0.75M273.3 154.0h0.75M266.5 136.8h0.75M272.3 151.0h0.75M265.2 146.5h0.75M268.6 153.1h0.75M270.5 147.6h0.75M269.4 159.0h0.75M277.1 144.8h0.75M274.7 140.9h0.75M271.3 156.0h0.75M277.7 144.7h0.75M270.7 150.5h0.75M264.4 148.7h0.75M268.0 152.2h0.75M266.0 128.7h0.75M271.2 151.1h0.75M268.6 157.4h0.75M269.8 142.4h0.75M273.1 132.8h0.75M268.0 148.3h0.75M274.7 146.9h0.75M272.4 141.9h0.75M268.2 148.7h0.75M271.8 158.7h0.75M265.6 127.5h0.75M273.7 156.5h0.75M271.9 151.0h0.75M275.1 152.2h0.75M278.3 136.1h0.75M269.3 114.1h0.75M274.6 144.8h0.75M271.0 146.0h0.75M268.8 140.1h0.75M268.2 154.9h0.75M271.2 149.2h0.75M270.2 157.6h0.75M273.2 147.1h0.75M273.9 147.0h0.75M273.0 138.9h0.75M275.7 151.9h0.75M272.5 157.4h0.75M271.9 147.0h0.75M264.2 158.2h0.75M271.1 145.6h0.75M272.5 149.3h0.75M274.0 144.8h0.75M270.8 127.1h0.75M269.1 155.3h0.75M276.9 144.9h0.75M269.6 155.8h0.75M278.4 148.9h0.75M276.4 141.4h0.75M271.9 147.7h0.75M271.5 159.8h0.75M281.5 141.8h0.75M268.5 153.5h0.75M266.4 153.5h0.75M273.5 145.7h0.75M273.3 133.0h0.75M274.3 133.1h0.75M267.9 142.9h0.75M269.2 157.1h0.75M271.4 144.5h0.75M271.0 152.2h0.75M276.5 151.2h0.75M280.7 128.7h0.75M270.8 152.7h0.75M275.2 155.2h0.75M269.8 138.0h0.75M271.5 158.8h0.75M266.2 138.2h0.75M270.9 129.1h0.75M269.9 144.1h0.75M273.0 141.5h0.75M267.1 144.6h0.75M270.8 141.9h0.75M271.1 156.0h0.75M267.6 144.3h0.75M267.8 148.2h0.75M273.3 134.9h0.75M273.0 148.2h0.75M263.0 151.4h0.75M276.3 129.8h0.75M274.6 150.6h0.75M273.1 152.9h0.75M276.7 146.3h0.75M274.8 144.4h0.75M274.2 140.4h0.75M273.0 146.9h0.75M266.0 140.6h0.75M271.9 157.9h0.75M272.9 153.7h0.75M269.3 143.0h0.75M274.9 149.1h0.75M269.8 142.7h0.75M269.9 154.7h0.75M272.6 136.4h0.75M272.9 150.3h0.75M266.6 156.2h0.75M269.8 145.1h0.75M274.5 161.7h0.75M268.0 152.9h0.75M268.8 160.4h0.75M268.2 156.6h0.75M280.8 123.1h0.75M269.1 153.5h0.75M270.6 141.8h0.75M280.5 149.3h0.75M263.8 157.0h0.75M263.4 160.0h0.75M268.5 149.9h0.75M276.5 149.7h0.75M264.9 131.5h0.75M276.2 155.9h0.75M267.4 157.1h0.75M273.2 155.0h0.75M275.0 155.8h0.75M274.9 123.9h0.75M271.7 153.4h0.75M282.2 139.0h0.75M269.6 148.9h0.75M274.9 144.1h0.75M276.0 140.6h0.75M272.2 143.2h0.75M271.7 141.6h0.75M264.0 159.4h0.75M272.3 142.9h0.75M271.9 158.4h0.75M266.7 147.4h0.75M273.4 153.8h0.75M269.5 127.4h0.75M276.5 151.8h0.75M271.1 145.7h0.75M272.2 144.2h0.75M266.5 141.1h0.75M268.4 142.4h0.75M265.9 154.9h0.75M265.2 155.1h0.75M266.5 152.0h0.75M277.0 150.5h0.75M267.8 149.0h0.75M271.7 131.2h0.75M268.3 150.1h0.75M268.9 149.3h0.75M274.2 156.2h0.75M275.0 154.4h0.75M269.7 148.3h0.75M269.8 145.4h0.75M270.2 131.3h0.75M269.5 148.3h0.75M266.7 148.3h0.75M273.3 146.9h0.75M280.1 122.4h0.75M270.1 130.2h0.75M273.3 145.5h0.75M273.4 126.1h0.75M274.7 152.2h0.75M271.1 142.6h0.75M273.8 143.6h0.75M272.0 143.4h0.75M271.9 156.0h0.75M267.1 148.2h0.75M273.7 150.0h0.75M267.0 129.3h0.75M275.1 156.6h0.75M268.3 141.4h0.75M274.9 139.4h0.75M263.0 138.5h0.75M268.0 141.2h0.75M272.0 141.0h0.75M276.8 147.7h0.75M266.2 161.6h0.75M268.4 150.7h0.75M270.9 145.4h0.75M272.4 141.6h0.75M262.9 126.4h0.75M265.4 140.9h0.75M270.9 149.1h0.75M273.4 149.7h0.75M267.5 141.4h0.75M273.1 153.8h0.75M270.5 146.8h0.75M275.1 148.7h0.75M274.2 154.3h0.75M271.9 161.6h0.75M268.5 144.9h0.75M267.4 140.5h0.75M271.1 154.2h0.75M276.2 156.6h0.75M276.3 135.9h0.75M268.2 153.0h0.75M277.3 149.5h0.75M267.2 145.0h0.75M268.1 139.9h0.75M277.6 142.2h0.75M276.2 151.9h0.75M268.3 152.6h0.75M278.1 154.7h0.75M276.6 149.5h0.75M273.3 146.5h0.75M272.9 161.5h0.75M264.7 147.9h0.75M272.1 142.8h0.75M269.6 156.4h0.75M279.8 154.8h0.75M272.4 133.0h0.75M279.5 149.3h0.75M270.9 137.3h0.75M270.7 137.5h0.75M271.3 153.2h0.75M271.1 151.3h0.75M268.1 130.3h0.75M270.2 140.9h0.75M266.6 145.0h0.75M272.3 136.7h0.75M274.0 147.0h0.75M271.6 147.3h0.75M270.8 155.8h0.75M270.6 124.5h0.75M270.9 139.6h0.75M273.9 142.4h0.75M266.4 137.3h0.75M264.8 124.6h0.75M268.2 129.8h0.75M264.5 154.7h0.75M267.6 144.8h0.75M279.5 158.8h0.75M271.6 150.3h0.75M269.6 153.1h0.75M272.3 149.0h0.75M268.8 135.2h0.75M268.7 133.1h0.75M276.4 153.9h0.75M274.9 129.4h0.75M279.1 156.6h0.75M280.1 136.2h0.75M273.3 152.7h0.75M271.9 150.2h0.75M275.6 133.6h0.75M265.5 134.6h0.75M268.5 142.4h0.75M272.6 151.2h0.75M271.1 141.7h0.75M269.1 158.0h0.75M274.4 149.5h0.75M268.4 155.0h0.75M276.1 145.8h0.75M274.6 137.3h0.75M275.5 150.5h0.75M264.0 155.2h0.75M267.1 161.3h0.75M268.0 146.9h0.75M272.2 145.2h0.75M272.1 143.0h0.75" stroke="#3d4868" stroke-width="0.75" opacity="0.72" fill="none"/>
<path d="M272.0 151.0h0.75M271.0 133.1h0.75M273.1 151.2h0.75M266.6 151.6h0.75M271.5 158.0h0.75M268.1 161.1h0.75M270.2 155.4h0.75M269.7 143.7h0.75M272.9 156.9h0.75M273.9 156.6h0.75M269.2 140.2h0.75M269.1 146.6h0.75M268.7 154.8h0.75M271.2 149.2h0.75M270.9 150.1h0.75M271.0 155.9h0.75M272.6 146.5h0.75M267.2 160.3h0.75M270.8 158.2h0.75M266.9 148.9h0.75M270.6 141.6h0.75M269.4 155.7h0.75M272.9 161.4h0.75M268.6 141.9h0.75M271.6 157.1h0.75M270.9 142.5h0.75M272.2 156.2h0.75M271.7 147.8h0.75M271.2 156.1h0.75M269.3 139.0h0.75M271.2 154.1h0.75M270.5 156.8h0.75M269.2 150.5h0.75M269.8 154.7h0.75M274.0 149.4h0.75M275.0 160.9h0.75M272.2 154.8h0.75M274.4 149.8h0.75M270.3 144.1h0.75M271.5 159.7h0.75M271.7 153.8h0.75M270.1 152.1h0.75M267.4 157.8h0.75M269.6 143.8h0.75M268.8 145.6h0.75M272.4 157.9h0.75M267.5 157.0h0.75M272.5 147.2h0.75M267.2 146.2h0.75M269.1 153.2h0.75M269.7 137.8h0.75M271.0 141.0h0.75M272.5 143.2h0.75M269.0 145.4h0.75M269.3 159.4h0.75M272.4 154.9h0.75M271.2 140.9h0.75M269.4 147.4h0.75M268.3 154.3h0.75M268.9 146.4h0.75M268.2 137.6h0.75M271.8 159.7h0.75M270.9 144.7h0.75M264.5 152.1h0.75M273.2 152.9h0.75M272.5 160.6h0.75M273.0 148.1h0.75M272.8 156.0h0.75M267.1 148.4h0.75M267.4 150.3h0.75M271.8 144.1h0.75M266.0 159.4h0.75M271.3 160.6h0.75M267.6 157.9h0.75M270.0 152.7h0.75M270.2 157.5h0.75M272.8 151.6h0.75M267.5 155.8h0.75M269.5 155.1h0.75M271.1 161.6h0.75M273.0 148.1h0.75M269.3 153.8h0.75M273.1 159.2h0.75M271.6 142.4h0.75M267.7 152.6h0.75M268.6 158.4h0.75M272.2 140.1h0.75M268.7 152.1h0.75M269.4 150.0h0.75M271.5 145.7h0.75M271.5 146.9h0.75M269.3 154.5h0.75M269.2 152.9h0.75M274.0 151.2h0.75M270.2 155.8h0.75M269.7 158.0h0.75M267.7 155.0h0.75M269.4 145.8h0.75M274.4 145.5h0.75M274.4 155.3h0.75M273.7 144.7h0.75M273.1 160.5h0.75M270.2 150.2h0.75M275.9 152.2h0.75M269.6 146.9h0.75M271.5 153.1h0.75M269.8 154.1h0.75M273.7 144.5h0.75M267.5 143.9h0.75M268.2 139.0h0.75M271.5 138.9h0.75M271.6 160.4h0.75M266.9 148.9h0.75M266.3 156.1h0.75M268.9 149.3h0.75M270.6 154.5h0.75M269.7 151.1h0.75M269.3 151.7h0.75M267.9 151.4h0.75M266.2 147.8h0.75M274.7 151.5h0.75M267.7 152.7h0.75M268.4 140.3h0.75M268.9 155.8h0.75" stroke="#3f6a55" stroke-width="0.75" opacity="0.70" fill="none"/>
<path d="M320.8 146.1h0.75M309.6 136.8h0.75M329.0 149.3h0.75M309.4 126.9h0.75M307.7 146.3h0.75M319.3 145.5h0.75M315.1 134.0h0.75M311.1 155.0h0.75M303.1 144.4h0.75M319.7 156.8h0.75M308.0 152.7h0.75M320.8 140.0h0.75M321.6 138.5h0.75M310.7 146.8h0.75M294.4 146.0h0.75M309.0 133.1h0.75M313.9 154.2h0.75M314.1 159.0h0.75M307.6 134.5h0.75M330.7 150.8h0.75M325.5 139.1h0.75M324.3 149.5h0.75M323.0 147.2h0.75M327.8 140.8h0.75M309.3 133.0h0.75M327.4 140.0h0.75M308.6 138.1h0.75M313.7 134.9h0.75M315.0 141.0h0.75M312.8 137.9h0.75M317.8 142.6h0.75M318.5 149.4h0.75M320.4 126.2h0.75M312.9 139.4h0.75M324.1 132.0h0.75M311.4 144.2h0.75M314.6 156.4h0.75M313.7 156.2h0.75M305.0 129.8h0.75M327.9 151.1h0.75M321.6 148.2h0.75M321.6 135.4h0.75M325.6 141.9h0.75M325.9 147.8h0.75M300.7 134.8h0.75M327.1 145.7h0.75M314.1 149.3h0.75M313.9 141.8h0.75M318.4 148.4h0.75M330.4 147.4h0.75M332.1 157.1h0.75M318.6 148.3h0.75M316.3 140.1h0.75M316.9 140.9h0.75M331.4 152.1h0.75M313.7 128.8h0.75M317.0 143.0h0.75M308.3 136.2h0.75M298.4 152.4h0.75M317.2 145.6h0.75M329.8 148.3h0.75M318.9 143.5h0.75M312.4 161.2h0.75M314.5 147.3h0.75M310.0 156.2h0.75M305.7 152.4h0.75M326.8 160.4h0.75M309.5 157.4h0.75M311.4 139.8h0.75M306.3 158.0h0.75M331.5 141.4h0.75M311.0 143.8h0.75M312.9 130.0h0.75M311.8 158.3h0.75M333.4 144.5h0.75M311.6 142.2h0.75M301.5 155.6h0.75M308.3 157.1h0.75M303.0 134.9h0.75M320.0 139.7h0.75M324.1 147.1h0.75M307.5 152.9h0.75M324.7 128.8h0.75M333.0 151.7h0.75M324.0 129.3h0.75M311.4 143.7h0.75M326.7 133.1h0.75M310.0 127.7h0.75M315.5 150.3h0.75M303.2 141.4h0.75M323.1 144.1h0.75M307.5 138.1h0.75M311.9 148.4h0.75M319.9 136.8h0.75M330.6 156.0h0.75M318.4 140.1h0.75M301.6 137.3h0.75M325.2 139.4h0.75M306.3 148.9h0.75M319.6 152.8h0.75M323.1 160.4h0.75M310.4 156.3h0.75M309.1 153.6h0.75M319.0 149.3h0.75M325.7 146.8h0.75M327.0 155.3h0.75M318.7 141.6h0.75M311.1 142.0h0.75M315.8 146.8h0.75M324.0 138.8h0.75M311.5 144.0h0.75M319.1 137.2h0.75M331.2 141.6h0.75M326.7 124.8h0.75M317.4 149.6h0.75M319.1 152.7h0.75M319.9 148.5h0.75M301.4 140.2h0.75M297.6 153.0h0.75M320.1 145.1h0.75M310.5 141.5h0.75M317.0 159.2h0.75M304.0 128.6h0.75M313.4 138.7h0.75M312.7 148.8h0.75M317.9 149.6h0.75M317.2 155.8h0.75M332.6 135.2h0.75M318.9 144.5h0.75M320.5 132.4h0.75M302.6 125.0h0.75M322.0 148.8h0.75M318.1 124.5h0.75M314.3 139.8h0.75M305.5 138.3h0.75M323.4 152.2h0.75M317.3 151.9h0.75M312.4 147.7h0.75M317.8 152.3h0.75M316.9 145.6h0.75M316.4 140.9h0.75M336.5 151.9h0.75M329.4 132.2h0.75M323.4 155.0h0.75M333.5 159.5h0.75M324.1 135.8h0.75M310.1 149.6h0.75M321.8 137.3h0.75M314.2 143.2h0.75M318.0 150.2h0.75M315.1 135.3h0.75M316.6 156.7h0.75M321.3 153.3h0.75M321.6 139.7h0.75M322.4 156.6h0.75M334.4 154.1h0.75M314.6 141.3h0.75M310.6 148.1h0.75M317.2 153.4h0.75M336.8 146.7h0.75M323.2 151.5h0.75M319.8 145.0h0.75M316.5 139.2h0.75M319.0 146.8h0.75M320.2 138.9h0.75M317.8 147.5h0.75M322.6 136.9h0.75M321.1 156.3h0.75M322.6 143.5h0.75M313.3 144.8h0.75M323.7 161.8h0.75M316.2 140.9h0.75M320.7 148.9h0.75M309.8 140.0h0.75M316.6 153.4h0.75M307.4 137.3h0.75M321.7 135.4h0.75M318.4 150.3h0.75M316.6 137.3h0.75M317.0 143.8h0.75M320.4 139.0h0.75M326.8 131.1h0.75M316.0 147.1h0.75M325.7 141.2h0.75M322.1 141.6h0.75M314.1 151.2h0.75M309.6 156.2h0.75M327.8 147.3h0.75M307.9 150.8h0.75M327.3 157.4h0.75M324.4 129.6h0.75M311.7 160.5h0.75M307.1 157.7h0.75M333.5 154.2h0.75M327.0 143.8h0.75M307.1 146.0h0.75M315.8 146.5h0.75M323.4 145.6h0.75M319.1 151.0h0.75M321.3 147.8h0.75M315.7 141.1h0.75M328.9 148.4h0.75M308.3 141.7h0.75M316.3 142.8h0.75M326.7 136.0h0.75M321.7 148.4h0.75M307.5 147.5h0.75M316.7 151.8h0.75M313.7 149.9h0.75M303.3 136.7h0.75M324.2 156.9h0.75M317.4 141.3h0.75M326.7 127.1h0.75M310.7 153.4h0.75M323.0 137.2h0.75M301.5 160.8h0.75M318.8 138.5h0.75M318.0 155.6h0.75M295.5 157.5h0.75M323.8 127.2h0.75M324.1 130.1h0.75M327.2 150.8h0.75M336.6 141.2h0.75M317.5 156.9h0.75M312.1 140.3h0.75M314.3 146.3h0.75M308.3 151.6h0.75M322.1 147.7h0.75M332.0 143.9h0.75M328.6 141.8h0.75M323.9 128.6h0.75M319.2 145.3h0.75M313.3 141.2h0.75M314.5 140.2h0.75M298.9 141.3h0.75M312.8 142.0h0.75M308.5 145.7h0.75M324.2 144.6h0.75M313.3 159.9h0.75M325.8 155.8h0.75M327.3 143.9h0.75M316.4 157.6h0.75M312.8 145.9h0.75M320.7 150.5h0.75M315.2 156.3h0.75M316.0 153.9h0.75M326.6 153.3h0.75M323.7 136.0h0.75M306.4 141.1h0.75M321.5 161.3h0.75M307.1 149.9h0.75M310.2 140.0h0.75M315.2 153.6h0.75M319.3 158.2h0.75M309.1 155.4h0.75M325.4 147.7h0.75M321.6 141.6h0.75M308.2 143.2h0.75M319.2 150.0h0.75M323.8 139.6h0.75M325.3 150.6h0.75M304.6 152.7h0.75M322.2 151.3h0.75M331.0 143.1h0.75M321.9 154.1h0.75M309.8 158.4h0.75M305.2 134.6h0.75M321.9 136.7h0.75M316.5 131.4h0.75M318.1 136.2h0.75M320.4 132.4h0.75M321.3 144.5h0.75M318.0 146.4h0.75M318.6 134.4h0.75M295.7 147.3h0.75M309.5 142.7h0.75M321.1 128.1h0.75M311.0 141.2h0.75M308.5 150.1h0.75M316.3 139.2h0.75M309.1 154.7h0.75M311.9 152.6h0.75M321.3 129.0h0.75M308.3 147.0h0.75M320.4 154.4h0.75M324.3 156.8h0.75M314.3 145.0h0.75M324.1 143.0h0.75M326.5 131.9h0.75M323.1 145.4h0.75M300.8 156.3h0.75M320.1 147.2h0.75M308.3 142.6h0.75M330.4 139.1h0.75M288.0 138.9h0.75M307.3 145.7h0.75M314.2 138.3h0.75M310.3 157.0h0.75M312.9 136.6h0.75M324.2 152.4h0.75M308.6 154.1h0.75M301.9 138.2h0.75M327.1 144.6h0.75M306.4 151.9h0.75M325.3 146.8h0.75M302.1 143.7h0.75M321.1 154.3h0.75M333.3 144.6h0.75M313.4 146.6h0.75M327.8 138.1h0.75M328.6 120.9h0.75M324.3 140.6h0.75M321.4 153.5h0.75M307.4 146.2h0.75M319.5 152.6h0.75M309.6 137.6h0.75M315.9 144.9h0.75M304.8 155.8h0.75M313.0 160.6h0.75M324.7 147.2h0.75M323.7 136.4h0.75M314.7 141.5h0.75M306.7 147.2h0.75M316.3 160.6h0.75M289.0 140.6h0.75M309.7 142.6h0.75M321.1 150.8h0.75M317.7 142.5h0.75M321.7 150.4h0.75M301.8 144.5h0.75M305.8 135.8h0.75M318.7 147.6h0.75M318.5 138.7h0.75M315.8 138.3h0.75M320.7 153.5h0.75M332.4 159.0h0.75M310.7 142.7h0.75M309.5 149.9h0.75M334.3 153.7h0.75M298.8 135.1h0.75M306.5 151.9h0.75M317.5 149.8h0.75M332.6 139.1h0.75M320.4 139.6h0.75M300.3 132.5h0.75M296.7 147.6h0.75M317.9 156.4h0.75M316.3 140.4h0.75M302.5 148.7h0.75M317.7 152.9h0.75M314.1 151.7h0.75M324.4 145.6h0.75M313.6 145.2h0.75M309.3 145.0h0.75M314.9 149.0h0.75M328.9 159.4h0.75M313.7 152.7h0.75M320.0 154.2h0.75M317.7 149.5h0.75M313.5 139.5h0.75M324.9 159.3h0.75M323.1 151.1h0.75M319.8 142.7h0.75M302.3 153.3h0.75M319.2 141.7h0.75M309.3 159.1h0.75M311.4 146.8h0.75M313.2 148.5h0.75M315.7 139.9h0.75M326.6 139.5h0.75M313.2 152.3h0.75M312.9 142.9h0.75M320.5 143.5h0.75M306.9 146.0h0.75M308.2 156.2h0.75M310.8 143.6h0.75M314.7 149.6h0.75M312.1 159.6h0.75M326.0 154.7h0.75M311.0 155.6h0.75M316.6 150.4h0.75M315.2 153.3h0.75M327.0 157.7h0.75M315.8 156.5h0.75M329.8 138.1h0.75M330.0 134.3h0.75M322.1 152.6h0.75M330.1 149.6h0.75M313.4 139.4h0.75M306.9 154.3h0.75M315.5 140.2h0.75M322.0 139.7h0.75M313.8 142.6h0.75M331.6 160.9h0.75M316.2 132.1h0.75M319.9 147.7h0.75M320.5 152.4h0.75M314.8 155.8h0.75M324.6 149.0h0.75M314.0 142.4h0.75M323.4 136.6h0.75M316.1 139.9h0.75" stroke="#4a5090" stroke-width="0.75" opacity="0.62" fill="none"/>
<path d="M282.2 116.2h0.75M288.4 113.4h0.75M292.4 105.7h0.75M288.2 114.6h0.75M292.2 107.8h0.75M291.7 114.3h0.75M294.6 118.9h0.75M291.0 123.9h0.75M288.5 111.1h0.75M287.0 108.5h0.75M288.4 103.8h0.75M288.1 115.3h0.75M293.0 111.5h0.75M294.7 109.9h0.75M287.9 103.8h0.75M285.1 109.2h0.75M295.1 115.8h0.75M283.6 115.8h0.75M290.6 112.1h0.75M288.6 111.7h0.75M286.1 104.5h0.75M288.1 119.5h0.75M294.8 111.8h0.75M285.2 112.2h0.75M292.4 114.9h0.75M285.9 115.0h0.75M287.6 115.7h0.75M286.7 106.0h0.75M288.8 116.9h0.75M283.6 112.7h0.75M292.4 111.4h0.75M285.6 123.1h0.75M292.1 118.2h0.75M284.4 121.2h0.75M281.2 110.7h0.75M291.7 119.7h0.75M284.4 110.0h0.75M289.4 103.8h0.75M291.3 115.9h0.75M286.5 115.8h0.75M291.9 114.7h0.75M290.8 120.6h0.75M286.4 114.0h0.75M286.2 118.2h0.75M286.7 115.5h0.75M289.1 113.5h0.75M296.0 112.8h0.75M294.7 117.2h0.75M294.3 112.4h0.75M292.5 116.9h0.75M285.8 114.5h0.75M287.9 113.0h0.75M294.2 109.7h0.75M281.2 104.8h0.75M286.5 110.1h0.75M288.6 115.9h0.75M296.1 114.7h0.75M290.5 109.7h0.75M291.0 119.8h0.75M294.3 103.8h0.75M292.4 120.8h0.75M292.1 106.0h0.75M287.2 116.0h0.75M290.3 109.3h0.75M284.6 117.9h0.75M282.7 120.1h0.75M288.6 114.6h0.75M282.7 110.3h0.75M291.5 106.1h0.75M297.5 106.4h0.75M283.2 113.4h0.75M290.6 116.7h0.75M286.9 112.2h0.75M287.5 110.4h0.75M277.3 117.8h0.75M289.6 114.0h0.75M285.8 114.4h0.75M288.4 112.8h0.75M293.3 104.9h0.75M289.6 108.1h0.75M287.1 120.4h0.75M283.8 112.7h0.75M285.9 117.8h0.75M284.3 105.1h0.75M290.7 111.5h0.75M287.1 118.4h0.75M284.7 111.4h0.75M289.1 115.2h0.75M286.3 118.2h0.75M298.2 111.2h0.75M296.6 103.1h0.75M294.6 111.5h0.75M289.1 111.6h0.75M285.7 107.1h0.75M286.8 119.4h0.75" stroke="#5a60a0" stroke-width="0.75" opacity="0.62" fill="none"/>
<path d="M319.7 109.0h0.75M290.9 105.9h0.75M279.3 127.6h0.75M311.5 113.0h0.75M291.5 103.2h0.75M322.8 118.7h0.75M283.5 120.5h0.75M280.9 117.5h0.75M283.4 108.4h0.75M308.6 115.7h0.75M317.5 104.8h0.75M327.3 123.6h0.75M299.8 116.0h0.75M286.6 110.7h0.75M277.2 112.8h0.75M303.4 123.6h0.75M316.4 119.0h0.75M293.7 110.1h0.75M294.1 113.9h0.75M266.6 118.7h0.75M272.9 107.5h0.75M300.4 107.6h0.75M328.7 111.2h0.75M327.2 122.1h0.75M291.4 115.5h0.75M322.4 109.1h0.75M301.5 107.2h0.75M301.0 108.9h0.75M301.4 120.7h0.75M324.1 113.2h0.75M303.5 119.4h0.75M295.0 102.9h0.75M319.2 103.9h0.75M316.1 103.7h0.75M331.6 103.0h0.75M314.7 125.0h0.75M283.4 124.8h0.75M285.8 96.8h0.75M312.5 118.1h0.75M296.5 90.2h0.75M299.1 109.4h0.75M293.4 109.5h0.75M269.1 107.1h0.75M331.1 125.4h0.75M293.8 105.8h0.75M306.8 121.2h0.75M312.5 101.9h0.75M302.8 113.2h0.75M324.9 122.3h0.75M309.1 122.5h0.75M293.2 125.3h0.75M292.6 115.4h0.75M315.9 104.1h0.75M287.9 96.8h0.75M302.8 111.5h0.75M294.4 116.3h0.75M263.4 111.8h0.75M301.5 109.7h0.75M313.7 127.1h0.75M292.3 103.9h0.75" stroke="#6a70b0" stroke-width="0.75" opacity="0.50" fill="none"/>
<path d="M298.9 131.7h0.75M326.7 140.1h0.75M328.8 147.9h0.75M268.7 137.8h0.75M279.3 158.1h0.75M307.4 127.6h0.75M275.8 139.0h0.75M298.3 146.7h0.75M292.2 138.7h0.75M263.5 146.8h0.75M288.2 126.7h0.75M297.6 161.4h0.75M266.4 131.2h0.75M313.6 135.8h0.75M283.6 144.0h0.75M282.8 146.4h0.75M302.8 160.4h0.75M337.8 127.2h0.75M305.3 153.7h0.75M328.8 153.8h0.75M310.7 148.8h0.75M290.4 136.1h0.75M323.0 157.3h0.75M333.8 150.5h0.75M285.9 153.4h0.75M318.8 144.3h0.75M310.9 138.6h0.75M304.5 140.6h0.75M267.6 138.1h0.75M287.4 161.5h0.75M299.3 139.2h0.75M281.4 134.4h0.75M289.3 130.9h0.75M263.5 157.3h0.75M297.2 142.0h0.75M305.9 136.9h0.75M275.7 128.4h0.75M285.7 137.1h0.75M317.8 145.8h0.75M333.7 138.2h0.75M332.5 146.9h0.75M269.0 132.4h0.75M306.8 161.4h0.75M289.9 153.8h0.75M295.3 157.2h0.75M268.1 143.4h0.75M330.8 135.9h0.75M282.4 126.8h0.75M275.4 135.6h0.75M316.1 133.8h0.75M293.1 133.2h0.75M308.5 157.0h0.75M311.9 133.1h0.75M318.3 160.6h0.75M308.3 128.8h0.75M324.0 157.4h0.75M288.7 130.9h0.75M277.2 145.3h0.75M329.0 149.0h0.75M332.6 133.6h0.75M287.6 152.9h0.75M311.9 140.6h0.75M314.2 138.1h0.75M267.3 140.9h0.75M266.4 148.5h0.75M288.2 143.7h0.75M308.1 135.2h0.75M297.9 126.5h0.75M332.8 146.3h0.75M337.5 128.0h0.75M309.3 152.0h0.75M287.8 129.4h0.75M274.8 131.1h0.75M320.8 129.2h0.75M324.4 141.2h0.75M303.6 147.1h0.75M304.8 149.6h0.75M308.4 137.9h0.75M318.9 135.3h0.75M316.6 153.4h0.75M321.5 137.1h0.75M321.3 161.1h0.75M297.2 136.0h0.75M302.5 159.8h0.75M272.9 126.3h0.75M298.9 149.5h0.75M321.4 139.0h0.75M337.6 134.2h0.75M320.0 129.2h0.75M265.1 130.8h0.75M267.5 144.0h0.75M304.9 132.5h0.75M333.9 139.1h0.75M274.3 132.4h0.75M318.6 159.1h0.75M275.2 127.0h0.75M321.7 134.7h0.75M337.1 143.9h0.75M311.0 138.4h0.75M323.4 142.5h0.75M287.4 158.4h0.75M271.1 152.3h0.75M267.9 149.2h0.75M293.3 157.0h0.75M267.5 146.3h0.75M293.9 159.0h0.75M334.2 148.5h0.75M279.9 135.0h0.75M282.8 141.6h0.75M280.4 133.3h0.75M320.2 149.1h0.75M285.5 161.7h0.75M279.3 146.4h0.75M274.8 157.0h0.75M328.5 135.6h0.75M319.7 155.5h0.75M284.3 137.9h0.75M299.6 158.0h0.75M275.2 150.5h0.75M308.1 142.3h0.75M306.7 157.7h0.75M278.8 157.7h0.75M290.2 154.0h0.75M328.1 132.5h0.75M328.1 161.7h0.75M285.4 126.9h0.75M271.4 161.0h0.75M263.7 158.7h0.75M274.4 152.4h0.75M270.4 132.1h0.75M314.5 129.2h0.75M288.6 159.0h0.75M317.0 157.7h0.75M336.9 127.2h0.75M280.7 154.4h0.75M315.0 127.4h0.75M301.1 134.3h0.75M295.5 129.8h0.75M264.5 161.6h0.75M286.9 157.5h0.75M272.1 143.5h0.75M273.2 141.4h0.75M276.5 150.6h0.75M274.2 152.5h0.75M300.8 130.0h0.75M289.7 143.8h0.75M332.3 138.5h0.75M279.2 160.7h0.75M329.6 152.3h0.75M283.6 132.4h0.75M283.0 128.5h0.75M266.3 144.3h0.75M293.8 146.0h0.75M290.3 126.4h0.75M314.9 149.4h0.75M304.0 145.7h0.75M315.0 161.3h0.75M328.9 151.8h0.75M293.1 137.4h0.75M294.6 160.9h0.75M292.2 139.8h0.75M293.9 131.1h0.75M338.3 126.2h0.75M308.8 159.3h0.75M282.2 147.9h0.75M291.4 134.6h0.75M278.0 130.2h0.75M326.6 154.1h0.75M331.5 127.8h0.75M315.3 137.6h0.75M311.7 145.7h0.75M286.8 160.9h0.75M263.1 152.8h0.75M327.4 144.3h0.75M307.7 161.7h0.75M280.7 148.6h0.75M319.0 139.6h0.75M316.7 140.1h0.75M302.7 148.0h0.75M314.1 137.6h0.75M310.4 145.5h0.75M279.8 148.0h0.75M283.0 158.6h0.75M298.7 151.9h0.75M302.4 143.1h0.75M279.7 131.1h0.75M332.9 145.0h0.75M302.5 144.9h0.75M324.3 134.6h0.75M276.0 155.5h0.75" stroke="#5a60a0" stroke-width="0.75" opacity="0.50" fill="none"/>
<path d="M297.7 113.4h0.75M325.4 121.9h0.75M328.4 93.4h0.75M291.7 119.8h0.75M324.7 96.1h0.75M274.6 100.4h0.75M270.8 103.9h0.75M323.6 109.4h0.75M297.1 94.9h0.75M292.8 125.3h0.75M315.4 107.0h0.75M299.1 118.7h0.75M320.2 97.0h0.75M314.3 104.3h0.75M302.3 99.9h0.75M291.0 103.4h0.75M291.7 92.6h0.75M278.1 111.1h0.75M267.4 98.0h0.75M317.2 101.2h0.75M287.4 100.1h0.75M325.9 95.1h0.75M311.0 120.7h0.75M278.2 106.1h0.75M322.7 112.6h0.75M291.0 93.5h0.75M296.4 104.3h0.75M316.7 101.9h0.75M293.8 113.6h0.75M324.1 103.8h0.75M292.1 111.3h0.75M332.7 98.4h0.75M336.2 115.8h0.75M291.1 114.2h0.75M287.8 94.4h0.75M320.0 104.7h0.75M302.6 108.6h0.75M331.0 117.3h0.75M264.9 111.8h0.75M297.9 107.4h0.75" stroke="#7a80c0" stroke-width="0.75" opacity="0.45" fill="none"/>
</g></g>
<g clip-path="url(#cs2)">
<g filter="url(#b3)" opacity="0.5"><ellipse cx="368" cy="114" rx="8" ry="8" fill="#5a5a80"/><ellipse cx="360.5" cy="141" rx="5" ry="6" fill="#6a6a98"/><ellipse cx="408" cy="126" rx="8" ry="18" fill="#9a9cc8"/></g>
<g filter="url(#b03)">
<path d="M372.5 107.0h0.75M353.6 116.1h0.75M360.7 116.7h0.75M355.1 112.5h0.75M362.8 102.8h0.75M366.8 114.7h0.75M364.6 105.0h0.75M370.0 100.9h0.75M372.2 117.0h0.75M380.3 119.9h0.75M371.0 115.4h0.75M368.7 104.0h0.75M378.7 117.3h0.75M366.5 105.3h0.75M378.9 117.3h0.75M360.2 118.3h0.75M381.8 113.3h0.75M371.3 110.5h0.75M364.1 121.2h0.75M390.0 114.3h0.75M367.6 119.2h0.75M366.4 118.7h0.75M374.3 106.2h0.75M361.0 113.0h0.75M374.3 115.5h0.75M377.2 103.6h0.75M371.9 109.0h0.75M369.2 115.8h0.75M361.7 111.9h0.75M360.4 115.4h0.75M362.6 110.0h0.75M370.0 108.8h0.75M376.5 108.9h0.75M374.4 115.5h0.75M361.3 111.9h0.75M362.7 110.9h0.75M366.6 126.6h0.75M365.6 124.8h0.75M371.6 104.1h0.75M352.4 118.4h0.75M354.6 118.7h0.75M375.7 116.3h0.75M367.0 111.7h0.75M370.3 111.3h0.75M364.8 110.8h0.75M376.7 109.1h0.75M371.1 105.2h0.75M363.5 103.7h0.75M367.1 118.4h0.75M370.6 110.0h0.75M372.8 111.0h0.75M371.1 115.5h0.75M372.3 95.8h0.75M359.4 119.0h0.75M367.8 129.6h0.75M366.9 109.6h0.75M378.9 117.5h0.75M381.7 117.2h0.75M367.1 118.7h0.75M363.0 110.3h0.75M364.6 111.9h0.75M373.9 110.1h0.75M370.7 109.9h0.75M374.7 93.8h0.75M367.1 114.7h0.75M361.0 120.7h0.75M370.0 122.7h0.75M375.2 118.1h0.75M367.5 105.7h0.75M367.0 110.2h0.75M370.2 110.2h0.75M389.8 102.1h0.75M376.7 110.1h0.75M366.8 120.1h0.75M368.5 104.8h0.75M371.4 112.1h0.75M354.2 114.9h0.75M361.2 108.2h0.75M371.9 115.6h0.75M366.5 129.0h0.75M371.4 109.1h0.75M370.1 112.6h0.75M353.2 102.2h0.75M358.8 128.3h0.75M367.2 111.5h0.75M364.6 120.5h0.75M368.7 125.7h0.75M374.0 125.2h0.75M367.7 116.2h0.75M365.5 112.3h0.75M356.5 109.4h0.75M361.9 108.8h0.75M376.9 115.4h0.75M377.0 119.6h0.75M374.9 120.7h0.75M364.3 119.2h0.75M366.3 109.7h0.75M376.8 128.9h0.75M361.7 125.9h0.75M374.3 107.5h0.75M370.4 116.1h0.75M371.1 111.0h0.75M359.6 113.7h0.75M374.5 119.1h0.75M373.1 121.4h0.75M361.6 113.2h0.75M370.9 120.6h0.75M369.6 117.2h0.75M369.4 128.5h0.75M353.4 113.3h0.75M385.7 115.2h0.75M355.8 114.5h0.75M358.6 108.7h0.75M370.1 125.7h0.75M371.7 118.3h0.75M375.6 114.9h0.75M362.6 112.8h0.75M370.8 111.5h0.75M363.9 110.9h0.75M358.1 106.2h0.75M367.9 110.9h0.75M368.8 123.5h0.75M370.6 113.3h0.75M360.4 105.8h0.75M371.1 107.3h0.75M371.5 105.9h0.75M369.4 113.0h0.75M375.4 110.7h0.75M365.9 115.3h0.75M368.9 125.5h0.75M366.7 109.7h0.75M366.3 116.9h0.75M370.1 118.4h0.75M358.9 131.1h0.75M381.2 113.3h0.75M360.1 114.6h0.75M371.4 97.6h0.75M368.6 103.0h0.75M371.7 123.3h0.75M375.7 102.8h0.75M378.1 120.0h0.75M366.0 117.1h0.75M379.0 111.1h0.75M368.4 109.5h0.75M376.5 98.2h0.75M378.3 106.6h0.75M374.9 101.9h0.75M362.0 109.2h0.75M374.2 102.0h0.75M372.7 109.0h0.75M377.1 111.3h0.75M371.9 112.3h0.75M380.9 110.9h0.75M368.3 127.6h0.75M369.0 118.4h0.75M363.4 114.9h0.75M352.8 114.2h0.75M364.0 102.8h0.75M358.7 121.6h0.75M371.5 102.7h0.75M381.1 108.5h0.75M365.9 115.3h0.75M360.6 102.0h0.75M363.3 121.9h0.75M375.1 102.3h0.75M376.8 113.7h0.75M372.0 113.9h0.75M371.4 106.4h0.75M362.2 108.5h0.75M365.9 117.9h0.75M360.1 124.9h0.75M364.1 109.3h0.75M373.4 116.6h0.75M366.2 105.9h0.75M361.6 102.1h0.75M376.4 121.2h0.75M381.4 117.1h0.75M370.8 118.9h0.75M375.1 111.7h0.75M370.9 128.8h0.75M356.8 103.5h0.75M361.8 118.9h0.75M376.7 111.1h0.75M373.2 113.2h0.75M370.6 109.7h0.75M368.3 113.5h0.75M376.3 129.4h0.75M355.9 117.3h0.75M368.5 120.4h0.75M375.9 119.1h0.75M374.1 106.7h0.75M356.7 125.4h0.75M376.9 106.7h0.75M377.4 118.3h0.75M361.7 121.8h0.75M363.8 108.2h0.75M357.8 112.0h0.75M375.6 108.7h0.75M355.6 128.8h0.75M381.3 118.4h0.75M364.8 104.9h0.75M357.1 117.5h0.75M377.5 105.9h0.75M368.5 111.5h0.75M366.7 117.1h0.75M383.0 109.0h0.75M374.4 121.3h0.75M366.5 112.4h0.75M359.2 121.2h0.75M364.8 108.8h0.75M369.0 107.4h0.75M361.3 111.4h0.75M378.8 112.0h0.75M372.2 103.0h0.75M355.0 126.5h0.75M365.7 102.5h0.75M367.8 117.8h0.75M356.5 107.2h0.75M370.3 106.9h0.75M374.0 120.4h0.75M371.6 110.4h0.75M368.2 109.0h0.75M367.6 115.8h0.75M366.4 120.4h0.75M386.5 109.6h0.75M370.9 119.4h0.75M373.0 111.8h0.75M365.2 120.7h0.75M372.8 117.1h0.75M362.9 118.0h0.75M374.0 112.2h0.75M373.0 129.0h0.75M355.4 117.8h0.75M360.4 103.7h0.75M366.9 117.4h0.75M368.9 105.2h0.75M358.5 109.5h0.75M368.6 107.6h0.75M358.0 126.1h0.75M362.7 112.4h0.75M364.7 109.3h0.75M368.8 111.4h0.75M372.8 105.0h0.75M358.1 127.5h0.75M368.0 119.0h0.75M376.7 117.5h0.75M368.8 102.4h0.75M357.3 120.5h0.75M373.2 117.6h0.75M356.9 98.2h0.75M361.1 105.0h0.75M369.6 106.2h0.75M379.5 109.0h0.75M364.6 119.7h0.75M370.8 107.1h0.75M374.2 127.3h0.75M359.9 111.7h0.75M361.0 99.6h0.75M372.9 118.5h0.75M375.3 116.6h0.75M354.4 113.3h0.75M363.8 105.0h0.75M360.8 119.0h0.75M366.4 127.6h0.75M371.8 99.8h0.75M374.8 122.5h0.75M368.7 104.8h0.75M380.9 104.1h0.75M367.9 99.8h0.75M359.7 101.3h0.75M376.1 122.0h0.75M365.7 103.7h0.75M368.1 116.2h0.75M357.8 105.2h0.75M367.8 118.6h0.75M369.0 116.7h0.75M359.7 95.6h0.75M370.7 106.9h0.75M367.6 110.8h0.75M371.9 107.9h0.75M378.6 113.7h0.75M372.2 118.0h0.75M375.8 116.4h0.75M356.2 109.0h0.75M381.6 116.9h0.75M372.4 116.9h0.75M364.0 108.6h0.75M363.9 121.9h0.75M371.1 126.4h0.75M372.0 127.2h0.75M371.7 104.9h0.75M380.8 115.9h0.75M376.9 115.1h0.75M366.2 114.7h0.75M360.6 104.8h0.75M362.2 109.7h0.75M358.9 112.8h0.75M370.6 128.2h0.75M381.5 113.1h0.75M374.7 111.9h0.75M371.3 113.3h0.75M364.7 114.0h0.75M358.0 116.7h0.75M366.5 105.6h0.75M366.0 117.5h0.75M363.7 117.0h0.75M372.5 124.8h0.75M360.8 112.7h0.75M372.1 124.4h0.75M370.4 119.0h0.75M358.1 109.2h0.75M380.3 111.4h0.75M383.8 108.2h0.75M366.5 101.9h0.75M373.0 115.4h0.75M382.8 114.7h0.75M366.7 103.2h0.75M367.9 120.4h0.75M373.8 122.5h0.75M374.6 113.2h0.75M372.8 114.8h0.75M359.0 126.0h0.75M371.2 105.8h0.75M371.2 115.6h0.75M375.6 124.1h0.75M379.4 106.6h0.75M355.3 115.5h0.75M370.9 116.1h0.75M360.6 110.1h0.75M369.9 119.0h0.75M384.1 115.7h0.75M364.2 96.2h0.75M376.2 112.5h0.75M367.7 106.3h0.75M373.7 100.4h0.75M369.3 114.4h0.75M370.6 123.1h0.75M367.8 114.2h0.75M374.6 102.1h0.75M366.4 114.0h0.75M375.3 107.6h0.75M374.2 116.3h0.75M357.9 102.6h0.75M358.3 114.5h0.75M370.0 118.8h0.75M374.4 109.4h0.75M376.1 119.5h0.75M371.9 117.0h0.75M359.3 116.2h0.75M361.1 104.7h0.75M366.0 114.5h0.75M368.1 111.1h0.75M361.3 114.9h0.75M363.2 103.1h0.75M369.2 124.2h0.75M365.6 105.7h0.75M378.4 126.1h0.75M366.4 111.9h0.75M370.0 135.2h0.75M369.5 120.8h0.75M371.7 100.1h0.75M360.6 104.4h0.75M371.6 114.3h0.75M381.3 111.5h0.75M370.7 114.1h0.75M369.5 130.6h0.75M370.5 124.3h0.75M377.8 109.0h0.75M373.4 110.7h0.75M369.3 114.7h0.75M368.7 110.0h0.75M379.7 111.5h0.75M373.5 125.9h0.75M373.0 121.1h0.75M378.5 121.5h0.75M380.8 103.0h0.75M382.6 113.7h0.75M356.0 108.8h0.75M358.5 113.3h0.75M357.8 106.1h0.75M370.6 114.7h0.75M362.8 111.8h0.75M367.8 114.1h0.75M368.5 111.9h0.75M374.8 101.6h0.75M365.0 114.5h0.75M365.6 109.4h0.75M365.4 115.0h0.75M377.5 112.1h0.75M366.6 116.1h0.75M366.8 99.2h0.75M370.4 110.7h0.75M364.4 118.1h0.75M368.8 109.3h0.75M352.8 100.8h0.75M368.6 112.6h0.75M371.7 115.2h0.75M365.1 104.1h0.75M360.6 112.5h0.75M360.2 119.1h0.75M359.0 100.2h0.75M367.1 100.4h0.75M380.2 106.2h0.75M368.1 111.7h0.75M362.6 100.4h0.75M355.1 119.9h0.75M375.9 129.5h0.75M358.0 117.6h0.75M368.4 119.8h0.75M364.8 118.8h0.75M374.9 118.0h0.75M378.9 112.2h0.75M379.6 108.3h0.75M380.5 93.2h0.75M368.6 107.6h0.75M368.5 121.1h0.75M373.7 114.2h0.75M380.8 102.6h0.75M362.6 124.7h0.75M370.9 98.1h0.75M371.0 104.7h0.75M379.1 122.0h0.75M364.6 123.1h0.75M362.5 120.3h0.75M372.7 112.6h0.75M358.3 111.4h0.75M352.0 109.3h0.75M355.2 122.5h0.75M361.5 95.5h0.75M372.7 116.2h0.75M364.9 129.2h0.75M374.1 114.0h0.75M363.9 91.6h0.75M372.0 120.6h0.75M364.2 103.0h0.75M368.2 101.1h0.75M368.6 119.2h0.75M379.4 115.5h0.75M369.9 119.0h0.75M378.6 111.1h0.75M359.7 107.6h0.75M359.4 106.9h0.75M367.6 116.0h0.75M369.6 114.0h0.75M365.9 116.6h0.75M374.9 119.1h0.75M379.3 111.4h0.75M366.7 126.0h0.75M369.9 116.6h0.75M366.1 120.7h0.75M365.6 106.0h0.75M368.1 110.2h0.75M374.5 110.7h0.75M369.4 111.9h0.75M370.9 108.8h0.75M376.5 103.0h0.75M365.7 108.3h0.75M373.2 113.8h0.75M372.0 111.1h0.75M363.3 105.2h0.75M366.1 109.5h0.75M370.5 116.1h0.75M375.5 112.7h0.75M363.1 105.6h0.75M368.9 116.2h0.75M382.5 114.8h0.75M381.2 127.4h0.75M360.9 122.5h0.75M376.7 123.5h0.75M368.4 120.6h0.75M365.0 113.0h0.75M368.6 126.7h0.75M367.0 120.6h0.75M369.0 108.3h0.75M370.2 118.4h0.75M363.4 118.2h0.75M363.4 107.0h0.75M370.1 111.8h0.75M361.4 101.4h0.75M368.7 115.3h0.75M365.2 114.9h0.75M357.5 116.4h0.75M371.5 115.6h0.75M364.1 114.1h0.75M369.4 121.4h0.75M370.5 115.4h0.75M363.3 119.9h0.75M376.9 109.8h0.75M373.1 115.8h0.75M368.2 104.0h0.75M381.1 99.7h0.75M370.7 110.7h0.75M376.7 110.4h0.75M368.8 118.0h0.75M371.8 109.7h0.75M373.4 116.4h0.75M375.6 109.7h0.75M368.2 110.6h0.75M362.5 115.4h0.75M371.4 124.0h0.75M366.2 116.4h0.75M376.7 112.7h0.75M369.0 114.5h0.75M363.5 106.2h0.75M376.5 114.8h0.75M368.0 104.3h0.75M369.3 122.2h0.75M360.2 106.9h0.75M376.5 124.1h0.75M379.6 109.4h0.75M372.8 108.0h0.75M372.2 110.8h0.75M369.9 123.4h0.75M370.9 111.7h0.75M368.9 115.5h0.75M364.8 115.0h0.75M372.8 125.0h0.75M353.7 104.7h0.75M359.6 119.9h0.75M386.0 114.9h0.75M369.4 121.9h0.75M364.9 109.9h0.75M370.9 109.2h0.75M376.5 113.5h0.75M371.2 132.2h0.75M365.3 120.3h0.75M362.6 122.7h0.75M375.4 114.5h0.75M375.6 125.3h0.75M378.3 113.5h0.75M368.1 121.6h0.75M358.0 109.1h0.75M372.0 117.7h0.75M381.8 126.4h0.75M370.8 116.7h0.75M359.1 112.1h0.75M370.4 111.8h0.75M368.9 118.0h0.75M361.7 109.3h0.75M355.8 121.9h0.75M361.0 101.0h0.75M374.0 111.9h0.75M375.4 110.8h0.75M383.6 118.7h0.75M369.6 114.3h0.75M367.0 119.4h0.75M382.7 110.4h0.75M360.8 117.9h0.75M376.1 102.6h0.75M363.6 106.2h0.75M372.5 117.2h0.75M363.3 105.3h0.75M373.4 98.5h0.75M373.1 112.4h0.75M382.1 120.8h0.75M364.4 111.5h0.75" stroke="#4a4a80" stroke-width="0.75" opacity="0.68" fill="none"/>
<path d="M368.8 108.6h0.75M369.7 113.0h0.75M365.6 109.9h0.75M373.3 112.4h0.75M367.4 108.4h0.75M367.3 106.4h0.75M372.4 110.7h0.75M367.7 106.8h0.75M368.5 109.2h0.75M373.9 109.3h0.75M369.8 113.2h0.75M371.2 110.0h0.75M363.9 114.1h0.75M371.0 109.4h0.75M369.3 108.1h0.75M367.2 106.7h0.75M370.8 111.8h0.75M369.9 112.5h0.75M370.9 110.8h0.75M367.2 112.0h0.75M372.5 112.1h0.75M372.7 109.3h0.75M367.0 113.7h0.75M368.0 111.1h0.75M369.0 110.6h0.75M368.8 109.1h0.75M364.9 115.4h0.75M370.0 105.6h0.75M367.2 107.6h0.75M367.6 104.0h0.75M371.0 114.7h0.75M368.9 112.4h0.75M371.0 107.3h0.75M372.6 106.2h0.75M368.0 109.6h0.75M372.7 110.8h0.75M369.2 108.5h0.75M369.7 110.6h0.75M371.4 114.1h0.75M371.4 110.5h0.75M369.1 114.6h0.75M370.0 110.5h0.75M374.1 114.5h0.75M370.9 110.2h0.75M367.9 113.2h0.75M368.3 112.9h0.75M367.5 110.8h0.75M370.5 110.9h0.75M370.1 111.5h0.75M366.6 107.7h0.75M369.1 115.1h0.75M369.2 108.1h0.75M367.8 110.6h0.75M372.5 109.1h0.75M370.9 111.0h0.75M368.6 108.1h0.75M369.1 108.7h0.75M370.9 106.0h0.75M372.4 112.4h0.75M371.0 114.3h0.75M371.0 106.2h0.75M369.6 111.6h0.75M367.8 107.6h0.75M370.6 111.8h0.75M368.4 109.9h0.75M368.2 109.1h0.75M369.4 113.2h0.75M365.4 109.6h0.75M373.6 111.3h0.75M369.9 112.6h0.75M367.0 107.4h0.75M365.3 106.8h0.75M370.1 112.7h0.75M368.4 108.8h0.75M370.5 112.1h0.75M370.2 105.7h0.75M368.1 104.1h0.75M370.1 108.3h0.75M367.8 114.3h0.75M372.8 111.7h0.75M370.2 110.9h0.75M368.0 110.4h0.75M374.3 108.3h0.75M367.8 110.9h0.75M371.8 112.6h0.75M367.1 110.2h0.75M368.8 107.4h0.75M369.7 109.3h0.75M371.8 111.6h0.75M367.5 110.7h0.75M368.6 108.9h0.75M368.3 113.2h0.75M368.5 106.2h0.75M367.5 112.5h0.75M374.9 107.8h0.75M368.6 109.7h0.75M365.9 111.5h0.75M369.4 111.2h0.75M375.2 109.8h0.75M371.5 112.6h0.75M367.9 109.0h0.75M373.4 112.3h0.75M369.9 107.7h0.75M371.7 111.8h0.75M375.1 114.2h0.75M371.5 111.2h0.75M369.7 109.1h0.75M370.3 111.1h0.75M371.1 113.2h0.75M370.3 109.1h0.75" stroke="#b0642a" stroke-width="0.75" opacity="0.80" fill="none"/>
<path d="M364.4 150.1h0.75M357.1 143.5h0.75M363.3 144.1h0.75M363.1 140.5h0.75M360.3 150.8h0.75M368.5 132.8h0.75M357.8 138.0h0.75M353.7 143.1h0.75M360.6 137.9h0.75M364.8 155.2h0.75M367.4 147.8h0.75M359.0 144.8h0.75M360.6 147.7h0.75M363.4 140.8h0.75M363.3 136.8h0.75M364.3 149.8h0.75M359.2 144.2h0.75M353.4 146.5h0.75M364.7 135.1h0.75M368.6 141.7h0.75M353.1 133.0h0.75M364.7 139.4h0.75M365.7 132.0h0.75M360.4 146.7h0.75M357.8 145.0h0.75M359.2 143.0h0.75M362.2 154.0h0.75M355.3 145.5h0.75M366.7 134.4h0.75M361.2 154.5h0.75M365.5 123.7h0.75M359.7 131.0h0.75M362.2 136.8h0.75M358.3 136.1h0.75M362.1 138.3h0.75M356.8 139.7h0.75M362.6 136.0h0.75M365.8 131.3h0.75M362.6 138.7h0.75M367.8 137.3h0.75M357.8 133.2h0.75M369.7 144.6h0.75M356.0 139.0h0.75M356.5 149.9h0.75M362.7 129.1h0.75M361.7 146.3h0.75M360.8 143.8h0.75M360.3 142.2h0.75M361.8 136.9h0.75M362.4 142.0h0.75M360.6 137.0h0.75M356.3 142.4h0.75M364.5 126.9h0.75M358.4 148.9h0.75M364.9 136.8h0.75M366.8 135.2h0.75M357.3 152.3h0.75M358.9 139.7h0.75M353.4 135.1h0.75M355.5 140.2h0.75M352.6 147.2h0.75M359.2 137.5h0.75M358.0 145.3h0.75M367.7 138.6h0.75M368.0 150.4h0.75M366.8 142.7h0.75M354.1 144.9h0.75M359.0 142.1h0.75M352.4 139.4h0.75M361.8 135.5h0.75M362.1 150.8h0.75M361.8 137.0h0.75M371.5 128.4h0.75M356.7 143.4h0.75M358.2 127.6h0.75M362.0 145.9h0.75M357.2 149.6h0.75M363.0 148.0h0.75M354.0 141.0h0.75M368.0 152.8h0.75M366.7 141.0h0.75M361.6 137.3h0.75M365.7 136.9h0.75M361.4 128.9h0.75M354.1 151.4h0.75M361.1 142.3h0.75M370.1 132.3h0.75M358.4 139.8h0.75M355.2 133.1h0.75M355.3 144.8h0.75M360.6 145.8h0.75M356.0 144.5h0.75M358.8 141.5h0.75M365.0 141.2h0.75M359.2 131.2h0.75M361.1 145.6h0.75M358.0 140.6h0.75M352.8 133.2h0.75M362.6 148.6h0.75M359.4 131.2h0.75M359.1 131.8h0.75M359.6 152.3h0.75M362.1 140.1h0.75M365.5 138.8h0.75M362.3 142.2h0.75M362.8 132.4h0.75M364.0 146.2h0.75M356.8 149.8h0.75M360.9 145.0h0.75M363.3 146.2h0.75M357.9 137.6h0.75M362.5 144.6h0.75M363.4 143.0h0.75M358.6 147.5h0.75M362.9 147.3h0.75M357.8 141.7h0.75M358.6 139.2h0.75M361.7 143.0h0.75M357.2 126.1h0.75M357.3 144.2h0.75M357.0 143.5h0.75M359.1 135.4h0.75M366.1 150.8h0.75M360.3 140.7h0.75M365.1 133.1h0.75M356.8 147.7h0.75M364.9 138.1h0.75M357.3 143.1h0.75M354.4 138.0h0.75M359.7 126.4h0.75M363.5 145.5h0.75M365.6 132.5h0.75M355.0 136.2h0.75M354.9 153.2h0.75M356.4 139.1h0.75M361.7 143.7h0.75M367.4 134.5h0.75M364.8 141.9h0.75M355.5 141.9h0.75M354.4 150.6h0.75M357.5 147.0h0.75M366.7 137.3h0.75M356.7 141.8h0.75M356.0 146.4h0.75M361.6 136.5h0.75M357.7 145.3h0.75M354.2 151.1h0.75M357.2 139.8h0.75M356.6 150.7h0.75M364.6 148.8h0.75M363.8 141.5h0.75M368.6 145.0h0.75M362.8 144.4h0.75M364.2 142.7h0.75M360.0 131.5h0.75M370.2 133.2h0.75M369.7 148.3h0.75M358.0 142.6h0.75M360.7 129.1h0.75M359.3 142.7h0.75M366.2 133.8h0.75M362.3 141.5h0.75M361.5 141.9h0.75M359.1 132.8h0.75M362.9 143.3h0.75M363.5 148.5h0.75M355.1 127.0h0.75M352.6 153.8h0.75M356.6 143.4h0.75M360.7 145.4h0.75M375.6 137.9h0.75M360.0 137.4h0.75M361.9 144.1h0.75M356.3 148.9h0.75M366.1 143.7h0.75M360.3 139.6h0.75M353.2 144.9h0.75M356.3 138.0h0.75M365.4 135.5h0.75M358.4 146.1h0.75M369.3 136.9h0.75M365.9 137.1h0.75M362.6 143.9h0.75M355.6 147.2h0.75M369.1 141.3h0.75M362.0 134.0h0.75M369.0 141.4h0.75M354.9 145.6h0.75M354.1 136.9h0.75M371.0 137.2h0.75M357.8 137.5h0.75M358.2 144.3h0.75M367.5 135.0h0.75M362.8 130.2h0.75M367.8 140.5h0.75M357.6 150.2h0.75M360.3 149.2h0.75M365.7 150.9h0.75M357.1 141.3h0.75M362.5 139.8h0.75M367.8 136.7h0.75M365.4 149.2h0.75M356.6 137.7h0.75M362.6 140.0h0.75M361.2 138.2h0.75M360.4 143.9h0.75M364.2 136.3h0.75M360.3 136.4h0.75M360.0 132.4h0.75M365.2 145.0h0.75M360.2 136.9h0.75M358.7 137.0h0.75M353.7 150.8h0.75M375.9 133.6h0.75M355.4 144.5h0.75M363.6 131.6h0.75M358.5 141.5h0.75M360.8 137.6h0.75M360.1 139.2h0.75M366.5 140.4h0.75M360.7 137.8h0.75M357.9 136.6h0.75M360.8 152.0h0.75M365.9 142.4h0.75M368.5 147.1h0.75M361.8 140.0h0.75M355.8 142.5h0.75M359.3 131.5h0.75M354.9 152.6h0.75M361.8 144.0h0.75M361.7 138.2h0.75M362.9 147.5h0.75M359.4 144.1h0.75M365.5 138.1h0.75M361.6 136.6h0.75M363.6 138.8h0.75M366.1 136.4h0.75M368.6 139.1h0.75M356.9 135.6h0.75M363.8 135.9h0.75M369.1 148.7h0.75M363.2 132.5h0.75M360.7 136.6h0.75M352.5 143.6h0.75M370.9 137.8h0.75M364.5 148.7h0.75M356.4 139.0h0.75M362.0 143.8h0.75" stroke="#4a4a78" stroke-width="0.75" opacity="0.68" fill="none"/>
<path d="M395.5 130.7h0.75M405.9 143.2h0.75M391.0 117.4h0.75M402.0 121.6h0.75M414.2 116.3h0.75M415.4 144.3h0.75M416.6 123.5h0.75M398.7 122.7h0.75M413.7 129.1h0.75M412.8 136.8h0.75M398.2 111.1h0.75M421.4 118.7h0.75M391.2 158.6h0.75M398.7 111.1h0.75M416.7 107.8h0.75M398.3 144.8h0.75M408.3 127.9h0.75M400.6 123.2h0.75M402.0 126.6h0.75M414.7 105.4h0.75M397.8 91.4h0.75M422.0 125.7h0.75M406.9 126.0h0.75M417.0 132.5h0.75M415.5 124.2h0.75M405.8 126.1h0.75M388.4 145.5h0.75M391.2 110.1h0.75M413.7 127.9h0.75M415.1 156.0h0.75M425.6 150.5h0.75M404.7 161.8h0.75M398.2 125.5h0.75M417.0 123.4h0.75M405.8 121.0h0.75M419.7 145.0h0.75M406.3 136.5h0.75M397.3 145.9h0.75M421.0 126.0h0.75M403.6 118.7h0.75M405.1 105.7h0.75M393.4 155.3h0.75M406.8 136.4h0.75M410.1 135.1h0.75M391.7 110.9h0.75M413.3 144.0h0.75M395.6 117.2h0.75M396.3 138.1h0.75M410.4 127.6h0.75M400.5 132.8h0.75M407.3 114.4h0.75M410.3 115.7h0.75M416.5 137.6h0.75M400.1 137.0h0.75M407.7 115.0h0.75M397.9 98.7h0.75M395.7 132.9h0.75M419.1 116.3h0.75M408.6 132.9h0.75M414.8 134.5h0.75M419.3 140.0h0.75M399.4 133.7h0.75M383.6 124.0h0.75M407.2 136.8h0.75M404.0 141.2h0.75M420.2 112.7h0.75M401.6 131.4h0.75M411.9 129.4h0.75M415.3 106.9h0.75M414.8 146.8h0.75M418.1 134.3h0.75M404.6 133.8h0.75M406.3 100.0h0.75M400.9 126.3h0.75M401.8 111.1h0.75M404.7 120.7h0.75M407.7 126.2h0.75M408.7 143.9h0.75M408.4 133.9h0.75M403.0 138.5h0.75M403.6 116.4h0.75M394.6 142.2h0.75M401.7 131.2h0.75M418.3 136.1h0.75M416.6 138.8h0.75M400.4 127.8h0.75M401.4 109.6h0.75M410.0 113.8h0.75M423.8 114.4h0.75M401.6 128.6h0.75M401.8 127.9h0.75M400.9 102.8h0.75M382.9 105.1h0.75M422.2 134.6h0.75M408.5 119.1h0.75M405.5 132.1h0.75M393.1 113.4h0.75M398.1 148.4h0.75M396.4 146.9h0.75M406.2 127.5h0.75M420.5 141.9h0.75M416.4 108.8h0.75M418.4 155.6h0.75M406.0 118.8h0.75M396.1 144.3h0.75M409.9 127.1h0.75M394.6 154.6h0.75M415.8 126.7h0.75M421.8 110.8h0.75M415.8 110.0h0.75M421.1 122.3h0.75M419.2 119.9h0.75M411.0 146.4h0.75M398.0 128.6h0.75M398.6 141.5h0.75M401.0 120.7h0.75M405.0 146.8h0.75M396.6 126.6h0.75M403.7 117.7h0.75M399.1 124.3h0.75M409.0 100.7h0.75M409.3 106.9h0.75M397.3 125.9h0.75M404.5 143.7h0.75M402.3 96.6h0.75M390.9 130.0h0.75M409.5 145.1h0.75M401.6 138.3h0.75M396.4 149.0h0.75M406.3 115.5h0.75M408.8 156.6h0.75M398.5 105.9h0.75M396.8 107.4h0.75M406.5 133.0h0.75M405.4 130.3h0.75M418.9 122.1h0.75M409.4 115.4h0.75M404.5 134.0h0.75M411.6 100.3h0.75M397.4 128.3h0.75M405.6 146.5h0.75M402.0 91.9h0.75M418.7 99.2h0.75M397.3 133.6h0.75M409.4 136.1h0.75M412.4 114.8h0.75M419.5 98.3h0.75M401.1 131.9h0.75M408.4 110.7h0.75M422.8 152.0h0.75M397.7 133.3h0.75M400.7 119.6h0.75M416.9 129.1h0.75M405.9 128.7h0.75M395.3 147.8h0.75M399.5 149.2h0.75M402.4 119.3h0.75M421.9 130.3h0.75M400.6 117.9h0.75M413.1 158.8h0.75M413.1 120.3h0.75M395.8 115.6h0.75M405.8 131.2h0.75M400.4 148.8h0.75M397.4 114.9h0.75M412.0 135.2h0.75M403.1 143.4h0.75M392.9 154.8h0.75M408.2 160.4h0.75M407.5 149.6h0.75M405.0 130.3h0.75M412.2 97.3h0.75M404.9 156.2h0.75M377.8 133.5h0.75M416.2 132.6h0.75M408.9 150.6h0.75M410.4 94.8h0.75M397.6 122.0h0.75M408.4 119.4h0.75M406.0 155.4h0.75M377.7 146.6h0.75M416.4 137.2h0.75M407.2 128.1h0.75M410.6 131.1h0.75M399.8 140.3h0.75M398.7 126.3h0.75M403.4 107.4h0.75M413.0 125.8h0.75M395.4 125.7h0.75M393.2 151.4h0.75M412.2 160.7h0.75M401.3 139.0h0.75M397.3 112.5h0.75M406.1 134.0h0.75M416.2 122.5h0.75M418.0 143.4h0.75M398.3 124.0h0.75M397.9 155.9h0.75M401.5 142.0h0.75M416.1 122.7h0.75M402.1 132.8h0.75M399.3 105.6h0.75M397.4 132.7h0.75M408.9 156.9h0.75M388.8 135.5h0.75M395.5 146.6h0.75M413.9 129.2h0.75M421.7 120.7h0.75M401.7 109.2h0.75M400.5 128.9h0.75M413.7 148.7h0.75M404.3 114.7h0.75M403.7 119.7h0.75M402.3 120.2h0.75M398.3 126.1h0.75M401.9 124.1h0.75M393.2 129.5h0.75M412.7 137.9h0.75M401.5 107.7h0.75M394.1 107.2h0.75M400.6 121.8h0.75M389.4 138.3h0.75M391.7 115.4h0.75M399.8 141.0h0.75M425.3 121.0h0.75M404.3 120.4h0.75M405.0 124.1h0.75M405.9 113.7h0.75M410.5 118.2h0.75M412.7 108.8h0.75M389.5 138.8h0.75M402.3 107.6h0.75M411.4 118.3h0.75M414.3 117.8h0.75M415.9 129.5h0.75M410.5 129.7h0.75M403.4 120.9h0.75M411.5 138.9h0.75M423.7 107.8h0.75M417.7 125.8h0.75M409.3 113.8h0.75M423.3 113.2h0.75M406.2 114.9h0.75M426.1 148.0h0.75M394.0 119.5h0.75M410.6 119.8h0.75M403.5 109.0h0.75M409.5 108.7h0.75M403.8 154.6h0.75M410.7 115.8h0.75M403.6 110.9h0.75M408.1 138.7h0.75M416.2 122.4h0.75M395.2 125.8h0.75M423.5 131.7h0.75M406.4 92.3h0.75M402.7 136.1h0.75M397.7 149.6h0.75M401.4 112.5h0.75M401.3 125.5h0.75M416.9 117.6h0.75M389.4 125.7h0.75M412.2 152.8h0.75M395.9 151.8h0.75M413.7 134.6h0.75M399.4 112.3h0.75M397.6 142.6h0.75M409.2 144.9h0.75M424.9 127.4h0.75M406.5 159.0h0.75M394.2 119.6h0.75M403.4 120.7h0.75M408.4 113.1h0.75M418.4 104.3h0.75M399.0 98.9h0.75M393.2 136.9h0.75M413.2 123.8h0.75M415.3 137.4h0.75M401.3 126.4h0.75M410.6 160.6h0.75M402.7 133.2h0.75M412.4 147.4h0.75M411.2 144.9h0.75M396.5 122.7h0.75M388.0 126.2h0.75M407.9 131.5h0.75M408.4 105.0h0.75M400.2 124.2h0.75M408.7 112.7h0.75M406.0 114.9h0.75M394.0 116.1h0.75M399.1 141.0h0.75M420.2 136.7h0.75M404.9 117.8h0.75M391.6 118.3h0.75M422.4 146.3h0.75M409.2 123.0h0.75M407.0 134.1h0.75M406.9 134.2h0.75M399.4 127.9h0.75M403.6 145.0h0.75M394.8 148.6h0.75M406.2 118.8h0.75M407.2 129.2h0.75M404.7 134.1h0.75M401.3 99.0h0.75M413.8 126.7h0.75M423.4 133.5h0.75M387.3 147.7h0.75M400.2 136.2h0.75M396.3 125.6h0.75M391.2 138.2h0.75M412.5 110.1h0.75M411.5 142.6h0.75M414.9 116.0h0.75M400.2 108.5h0.75M394.3 132.3h0.75M407.4 148.7h0.75M409.7 121.8h0.75M393.0 152.7h0.75M408.6 126.6h0.75M397.1 109.8h0.75M413.2 111.0h0.75M412.7 137.5h0.75M403.3 100.3h0.75M411.0 150.4h0.75M398.9 106.3h0.75M417.7 129.5h0.75M400.9 147.4h0.75M404.3 134.6h0.75M403.1 114.7h0.75M409.2 112.9h0.75M389.6 118.2h0.75M419.1 145.3h0.75M422.8 131.3h0.75M402.7 134.9h0.75M397.7 139.3h0.75M402.6 131.4h0.75M398.6 125.0h0.75M416.6 123.6h0.75M400.4 131.8h0.75M415.6 124.1h0.75M395.5 101.4h0.75M393.9 144.7h0.75M406.1 135.1h0.75M417.5 131.9h0.75M411.7 118.8h0.75M391.2 137.5h0.75M406.1 136.7h0.75M396.6 124.8h0.75M426.8 113.3h0.75M408.0 148.7h0.75M404.7 129.2h0.75M386.1 140.0h0.75M402.7 148.4h0.75M406.1 121.1h0.75M411.3 123.2h0.75M402.0 152.6h0.75M416.6 129.0h0.75M414.9 140.8h0.75M412.7 128.0h0.75M407.7 133.9h0.75M412.5 133.0h0.75M401.6 126.0h0.75M411.5 111.1h0.75M406.9 139.6h0.75M408.7 122.5h0.75M406.8 119.3h0.75M416.6 121.1h0.75M390.7 107.5h0.75M409.9 130.6h0.75M402.4 105.8h0.75M405.5 113.5h0.75M400.6 127.2h0.75M399.5 132.3h0.75M399.8 119.7h0.75M404.8 151.1h0.75M422.4 142.6h0.75M399.8 127.3h0.75M415.9 140.4h0.75M391.1 126.3h0.75M399.8 139.5h0.75M413.2 118.5h0.75M406.2 158.2h0.75M401.8 119.6h0.75M421.4 126.6h0.75M411.7 106.8h0.75M424.5 143.3h0.75M410.5 138.7h0.75M402.1 119.6h0.75M391.6 133.3h0.75M419.1 141.2h0.75M416.0 138.8h0.75M398.0 106.1h0.75M413.3 130.0h0.75M416.6 122.8h0.75M398.4 134.5h0.75M401.6 100.7h0.75M401.0 113.0h0.75M396.1 118.3h0.75M423.9 120.5h0.75M418.2 126.1h0.75M410.9 116.3h0.75M406.3 100.1h0.75M424.5 114.9h0.75M412.7 117.8h0.75M409.6 108.2h0.75M403.3 142.1h0.75M412.8 95.8h0.75M415.3 106.0h0.75M409.8 135.7h0.75M400.7 122.1h0.75M404.6 133.8h0.75M415.9 149.3h0.75M410.2 159.5h0.75M397.7 156.0h0.75M404.4 139.7h0.75M405.8 128.6h0.75M398.0 133.5h0.75M426.8 129.7h0.75M406.8 127.4h0.75M414.0 124.0h0.75M407.0 130.8h0.75M419.8 142.7h0.75M396.7 117.1h0.75M407.2 141.0h0.75M416.5 123.9h0.75M420.8 150.3h0.75M422.6 130.5h0.75M412.6 102.6h0.75M389.6 117.4h0.75M414.0 144.5h0.75M406.0 144.1h0.75M412.7 151.9h0.75M391.4 113.9h0.75M397.6 110.4h0.75M423.1 112.3h0.75M398.9 120.8h0.75M415.7 119.8h0.75M414.2 136.2h0.75M400.7 89.1h0.75M398.0 107.1h0.75M423.0 115.7h0.75M396.5 133.4h0.75M407.5 112.2h0.75M417.7 142.0h0.75M409.7 115.0h0.75M398.5 94.2h0.75M410.8 133.6h0.75M398.0 127.7h0.75M390.3 137.1h0.75M402.8 119.3h0.75M413.1 125.1h0.75M416.7 135.6h0.75M418.4 129.2h0.75M385.9 149.2h0.75M390.3 144.1h0.75M409.5 104.8h0.75M407.7 141.5h0.75M397.0 127.9h0.75M399.8 111.0h0.75M400.9 147.8h0.75M413.7 126.8h0.75M406.2 129.3h0.75M409.8 130.2h0.75M390.2 142.1h0.75M413.9 107.7h0.75M405.6 125.7h0.75M401.2 135.8h0.75M404.3 122.7h0.75M397.6 122.7h0.75M396.8 127.9h0.75M420.0 143.5h0.75M411.2 105.2h0.75M417.1 142.3h0.75M427.2 90.8h0.75M407.2 121.8h0.75M417.7 109.6h0.75M416.8 94.9h0.75M407.2 149.3h0.75M400.9 136.8h0.75M408.0 103.5h0.75M400.8 145.5h0.75M418.6 117.4h0.75M418.1 115.6h0.75M409.4 126.8h0.75M394.7 132.4h0.75M398.9 113.4h0.75M398.8 111.3h0.75M415.8 128.3h0.75M409.5 122.8h0.75M407.6 122.9h0.75M396.3 102.5h0.75M407.7 143.6h0.75M409.3 153.3h0.75M393.6 122.8h0.75M400.9 147.1h0.75M423.7 118.7h0.75M414.2 123.2h0.75M397.2 125.3h0.75M396.8 152.2h0.75M412.8 146.4h0.75M414.9 128.6h0.75M383.6 128.7h0.75M416.9 154.9h0.75M396.9 139.9h0.75M410.3 124.3h0.75M404.2 135.7h0.75M412.7 137.8h0.75M403.0 105.7h0.75M420.0 148.2h0.75M401.4 126.6h0.75M414.9 98.5h0.75M409.7 115.6h0.75M427.1 127.2h0.75M409.1 120.2h0.75M408.8 97.9h0.75M394.4 103.1h0.75M415.9 125.6h0.75M418.3 93.9h0.75M401.1 150.8h0.75M399.2 96.7h0.75M399.7 121.4h0.75M406.9 148.3h0.75M420.1 152.3h0.75M412.7 118.9h0.75M402.1 103.0h0.75M419.5 147.5h0.75M407.9 112.5h0.75M413.6 135.0h0.75M408.5 108.1h0.75M409.4 117.8h0.75M414.3 136.8h0.75M411.3 120.1h0.75M422.0 139.7h0.75M419.5 140.7h0.75M413.5 133.4h0.75M396.5 97.4h0.75M397.8 137.0h0.75M416.0 130.0h0.75M407.9 156.9h0.75M403.1 98.0h0.75M391.8 121.8h0.75M413.9 139.0h0.75M404.8 140.3h0.75M406.5 115.2h0.75M403.3 139.3h0.75M416.4 108.7h0.75M397.3 129.0h0.75M394.7 133.8h0.75M412.0 117.1h0.75M406.7 134.9h0.75M389.9 126.6h0.75M412.9 142.1h0.75M418.4 125.9h0.75M392.9 148.9h0.75M414.6 116.6h0.75M417.2 143.9h0.75M405.6 88.6h0.75M402.4 114.7h0.75M398.8 125.7h0.75M396.4 133.4h0.75M425.5 107.6h0.75M417.2 118.3h0.75M412.3 124.9h0.75M419.6 115.4h0.75M414.2 114.4h0.75M409.2 126.8h0.75M417.7 101.3h0.75M393.8 149.7h0.75M410.8 154.7h0.75M396.9 130.4h0.75M412.9 155.8h0.75M406.5 119.7h0.75M414.0 125.3h0.75M399.7 139.4h0.75M388.4 110.5h0.75M420.3 118.9h0.75M403.8 133.1h0.75M418.0 135.6h0.75M397.6 117.8h0.75M417.3 125.1h0.75M400.8 141.2h0.75M396.5 115.5h0.75M400.2 132.8h0.75M402.3 145.2h0.75M380.7 142.7h0.75M400.7 122.5h0.75M412.6 130.3h0.75M397.1 151.5h0.75M412.6 119.0h0.75M409.0 109.0h0.75M395.0 122.1h0.75M410.6 128.7h0.75M399.4 104.4h0.75M390.6 153.0h0.75M410.6 114.0h0.75M418.6 135.8h0.75M403.0 117.0h0.75M418.1 132.3h0.75M423.0 132.9h0.75M401.3 117.2h0.75M400.1 131.1h0.75M409.5 136.9h0.75M411.4 109.9h0.75M405.0 111.7h0.75M411.7 105.6h0.75M401.3 113.0h0.75M401.0 122.8h0.75M421.7 122.8h0.75M393.0 122.1h0.75M414.3 136.0h0.75M409.3 159.5h0.75M417.8 128.5h0.75M418.8 105.2h0.75M405.4 112.9h0.75M408.7 153.4h0.75M402.2 153.0h0.75M397.1 150.3h0.75M390.5 113.2h0.75M416.7 125.5h0.75M408.4 126.8h0.75M408.8 124.1h0.75M397.5 122.3h0.75M408.1 112.3h0.75M411.5 155.7h0.75M391.0 118.1h0.75M404.3 127.3h0.75M407.9 115.2h0.75M406.7 127.1h0.75M406.2 152.1h0.75M408.3 102.9h0.75M391.8 136.6h0.75M403.7 116.9h0.75M393.8 122.0h0.75M406.1 115.8h0.75M403.6 141.5h0.75M414.6 135.9h0.75M405.3 104.9h0.75M414.5 151.4h0.75M419.4 146.0h0.75M409.7 133.1h0.75M406.9 147.4h0.75M414.6 121.8h0.75M407.0 100.8h0.75M399.9 122.1h0.75M415.9 128.3h0.75M404.1 137.2h0.75M387.6 142.4h0.75M425.8 131.8h0.75M406.4 129.6h0.75M413.4 119.0h0.75M408.2 135.2h0.75M403.6 133.4h0.75M410.2 138.7h0.75M397.4 118.3h0.75M402.9 146.5h0.75M409.4 100.0h0.75M394.6 158.6h0.75M410.3 105.9h0.75M398.2 129.3h0.75M420.9 153.4h0.75M403.5 122.1h0.75M425.6 111.0h0.75M422.2 132.5h0.75M407.9 148.0h0.75M411.7 113.4h0.75M392.2 127.3h0.75M412.0 149.3h0.75M381.6 148.9h0.75M413.0 151.8h0.75M414.7 130.5h0.75M411.2 133.5h0.75M400.9 125.1h0.75M408.2 119.6h0.75M392.8 103.4h0.75M411.9 135.5h0.75M408.1 107.9h0.75M415.3 120.6h0.75M386.9 152.6h0.75M412.2 119.8h0.75M384.2 115.5h0.75M421.4 149.2h0.75M409.5 99.0h0.75" stroke="#5050a0" stroke-width="0.75" opacity="0.62" fill="none"/>
<path d="M368.7 124.2h0.75M376.0 126.3h0.75M375.0 106.1h0.75M366.4 147.4h0.75M359.3 140.4h0.75M392.2 136.8h0.75M359.9 144.8h0.75M355.8 132.5h0.75M368.4 144.7h0.75M382.3 130.6h0.75M387.7 141.2h0.75M367.8 114.8h0.75M393.5 122.5h0.75M375.6 126.4h0.75M367.9 106.4h0.75M370.7 126.5h0.75M380.6 121.1h0.75M358.3 113.5h0.75M371.7 131.4h0.75M378.3 122.9h0.75M376.7 129.9h0.75M386.8 127.3h0.75M373.3 135.6h0.75M382.7 115.6h0.75M367.9 124.3h0.75M353.4 145.6h0.75M381.4 128.3h0.75M401.4 145.1h0.75M389.7 149.2h0.75M379.9 108.9h0.75M385.4 133.7h0.75M361.5 128.7h0.75M378.6 141.3h0.75M373.5 121.0h0.75M378.7 117.7h0.75M371.3 138.3h0.75M359.4 133.1h0.75M354.9 115.5h0.75M361.2 126.8h0.75M378.3 127.3h0.75M380.0 129.3h0.75M370.2 134.6h0.75M369.9 129.8h0.75M381.1 120.3h0.75M382.1 113.1h0.75M370.1 104.6h0.75M367.4 149.4h0.75M375.1 145.1h0.75M359.2 114.4h0.75M376.1 139.2h0.75M379.3 105.4h0.75M376.5 127.0h0.75M373.1 134.4h0.75M369.6 105.2h0.75M362.7 108.5h0.75M360.5 126.2h0.75M383.4 118.4h0.75M365.3 112.5h0.75M356.9 128.9h0.75M367.8 124.8h0.75M363.6 134.6h0.75M361.5 135.4h0.75M366.2 138.6h0.75M364.2 134.0h0.75M375.9 126.9h0.75M386.3 130.4h0.75M364.2 137.4h0.75M364.8 120.7h0.75M372.1 130.5h0.75M386.9 104.4h0.75M369.7 143.3h0.75M370.6 132.3h0.75M385.4 111.4h0.75M372.4 138.7h0.75M366.9 104.3h0.75M363.3 130.6h0.75M373.7 152.9h0.75M383.6 107.1h0.75M381.1 140.4h0.75M386.2 125.9h0.75M367.1 130.0h0.75M385.6 136.4h0.75M386.9 138.6h0.75M366.8 114.3h0.75M388.2 107.5h0.75M368.9 123.7h0.75M364.0 120.3h0.75M372.1 160.2h0.75M371.4 120.9h0.75M373.1 140.7h0.75M364.8 122.5h0.75M356.7 137.5h0.75M378.0 148.3h0.75M361.5 157.4h0.75M379.7 124.3h0.75M368.6 123.8h0.75M361.4 138.4h0.75M366.7 118.2h0.75M376.5 129.5h0.75M366.9 124.8h0.75M367.7 146.2h0.75M380.8 118.2h0.75M371.6 146.6h0.75M369.5 152.1h0.75M375.9 137.1h0.75M353.8 139.5h0.75M375.0 135.9h0.75M376.2 135.1h0.75M367.5 140.2h0.75M372.6 113.8h0.75M363.1 130.2h0.75M374.9 98.1h0.75M353.9 142.2h0.75M358.5 124.6h0.75M366.7 135.6h0.75M384.4 149.9h0.75M363.1 144.7h0.75M361.3 132.2h0.75M373.5 136.4h0.75M365.0 146.1h0.75M371.4 127.7h0.75M369.7 113.5h0.75M378.3 132.6h0.75M376.0 153.3h0.75M364.4 124.1h0.75M372.1 139.6h0.75M370.4 140.7h0.75M376.0 104.1h0.75M366.0 100.4h0.75M369.5 122.3h0.75M377.2 130.3h0.75M371.4 145.1h0.75M377.2 111.3h0.75M365.9 132.5h0.75M387.0 125.3h0.75M370.5 131.6h0.75M378.9 126.8h0.75M374.6 122.3h0.75M367.2 117.2h0.75M377.8 120.4h0.75M376.8 133.5h0.75M380.6 91.5h0.75M363.5 111.4h0.75M370.6 138.9h0.75M394.3 149.0h0.75M383.9 133.2h0.75M368.6 135.3h0.75M352.9 140.7h0.75M372.1 136.4h0.75M363.0 113.1h0.75M366.3 127.4h0.75M375.1 123.2h0.75M375.1 137.3h0.75M361.8 126.6h0.75M358.3 120.5h0.75M380.0 118.3h0.75M388.4 134.9h0.75M379.8 129.4h0.75M379.6 142.9h0.75M372.9 120.8h0.75M367.2 154.3h0.75M370.4 121.8h0.75M365.8 105.1h0.75M367.6 132.4h0.75M367.7 117.7h0.75M375.6 134.3h0.75M368.2 132.2h0.75M363.4 139.7h0.75M363.3 123.4h0.75M373.2 122.3h0.75M361.9 156.6h0.75M385.3 104.3h0.75M373.1 110.7h0.75M374.7 110.3h0.75M377.1 135.2h0.75M387.0 144.4h0.75M368.0 140.9h0.75M368.0 126.5h0.75M367.6 104.0h0.75M377.3 100.3h0.75M369.9 135.2h0.75M373.0 106.5h0.75M366.3 137.3h0.75M381.7 149.7h0.75M356.0 134.3h0.75M367.8 138.4h0.75M357.2 126.1h0.75M378.2 119.2h0.75M368.8 114.7h0.75M381.8 109.9h0.75M364.0 123.5h0.75M369.2 156.8h0.75M374.4 116.7h0.75M377.1 132.7h0.75M374.5 127.1h0.75M376.1 112.0h0.75M361.4 122.2h0.75M362.3 137.6h0.75M389.1 144.9h0.75" stroke="#5a60a8" stroke-width="0.75" opacity="0.50" fill="none"/>
<path d="M359.8 104.3h0.75M402.8 137.9h0.75M413.0 141.3h0.75M422.4 98.5h0.75M352.8 110.8h0.75M410.9 105.2h0.75M392.2 146.5h0.75M363.8 130.3h0.75M420.1 145.0h0.75M382.1 127.0h0.75M373.0 159.3h0.75M411.2 140.5h0.75M375.0 144.0h0.75M388.8 148.4h0.75M379.5 154.0h0.75M403.8 125.1h0.75M394.5 148.8h0.75M392.0 159.2h0.75M352.5 155.0h0.75M406.0 127.7h0.75M416.3 105.0h0.75M377.5 142.8h0.75M414.2 119.9h0.75M427.2 138.4h0.75M355.4 103.2h0.75M357.8 133.1h0.75M376.3 112.5h0.75M385.8 100.2h0.75M420.7 151.1h0.75M394.2 124.7h0.75M375.3 135.3h0.75M378.2 160.3h0.75M424.3 143.6h0.75M414.4 100.0h0.75M361.3 118.1h0.75M361.5 123.3h0.75M426.5 150.8h0.75M424.5 109.8h0.75M368.8 96.6h0.75M372.7 98.8h0.75M391.9 115.1h0.75M402.9 132.5h0.75M397.2 115.1h0.75M407.6 141.1h0.75M406.0 126.5h0.75M387.1 114.1h0.75M355.0 126.2h0.75M398.6 107.5h0.75M417.0 153.8h0.75M416.5 149.6h0.75M388.9 106.8h0.75M372.5 144.3h0.75M426.4 102.4h0.75M352.5 118.6h0.75M378.4 135.0h0.75M360.5 151.5h0.75M377.6 155.8h0.75M376.9 115.4h0.75M365.3 159.6h0.75M396.6 150.2h0.75M356.8 131.3h0.75M407.4 160.8h0.75M422.8 101.9h0.75M380.2 161.8h0.75M392.4 159.0h0.75M371.2 96.7h0.75M423.5 112.6h0.75M394.4 119.1h0.75M395.7 157.5h0.75M423.6 153.7h0.75M371.4 149.9h0.75M353.4 122.9h0.75M423.4 112.0h0.75M379.8 133.9h0.75M369.9 142.4h0.75M401.3 101.4h0.75M421.6 99.8h0.75M404.7 118.3h0.75M362.9 100.2h0.75M427.4 148.5h0.75M386.7 148.2h0.75M425.3 157.0h0.75M392.3 113.4h0.75M391.2 160.7h0.75M407.2 139.8h0.75M415.7 122.4h0.75M394.3 151.8h0.75M367.1 152.5h0.75M353.9 130.9h0.75M395.5 104.8h0.75M421.7 124.4h0.75M366.0 122.5h0.75M396.7 123.7h0.75M352.2 101.2h0.75M405.9 103.8h0.75M371.3 149.0h0.75M417.1 154.0h0.75M365.2 95.3h0.75M409.0 135.1h0.75M379.6 96.2h0.75M384.6 110.9h0.75M396.5 160.6h0.75M367.8 100.0h0.75M404.5 102.2h0.75M368.9 124.4h0.75M426.5 116.7h0.75M375.9 126.8h0.75M364.3 121.9h0.75M404.9 116.7h0.75M412.2 107.3h0.75M359.7 137.0h0.75M386.2 156.4h0.75M359.9 144.9h0.75M402.6 119.8h0.75M361.7 135.9h0.75M409.3 126.6h0.75M387.7 140.9h0.75M398.1 123.3h0.75M366.1 126.0h0.75M393.6 155.0h0.75M427.2 132.2h0.75M376.8 109.9h0.75M399.7 144.4h0.75M370.7 141.2h0.75M427.5 121.2h0.75M423.0 124.2h0.75M401.3 153.0h0.75M367.4 118.1h0.75M426.4 99.4h0.75M375.1 126.9h0.75M408.3 137.2h0.75M422.3 139.8h0.75M352.1 99.8h0.75M354.8 123.9h0.75M354.0 130.2h0.75M399.8 108.5h0.75M416.7 122.7h0.75M424.6 118.9h0.75M398.9 131.3h0.75M371.9 147.2h0.75M352.3 111.7h0.75M376.2 154.0h0.75M389.8 97.4h0.75M374.6 135.8h0.75M413.1 102.3h0.75M410.9 121.1h0.75M391.6 123.2h0.75M385.1 161.3h0.75M421.5 156.4h0.75M407.6 141.8h0.75" stroke="#6a70b0" stroke-width="0.75" opacity="0.48" fill="none"/>
</g></g>
<path d="M262.8 88.5H339V162.5M352 88.5H428.2" stroke="#c4c4d4" stroke-width="0.5" fill="none" opacity="0.8"/>
<path d="M294.5 88.5V162.5M262.8 135.8H339M383.2 88.5V162.5M352 135.8H428.2" stroke="#e8a0b0" stroke-width="0.4" opacity="0.4" fill="none"/>
<g class="t95" style="font-size:9.2px">
<text x="264.6" y="95.6">6.01</text><text x="338.4" y="95.4" text-anchor="end">3.38</text>
<text x="264.4" y="161.6">42.3</text><text x="338.6" y="161.6" text-anchor="end">48.3</text>
<text x="353.3" y="95.4">39.5</text><text x="428" y="95.4" text-anchor="end">25.9</text>
<text x="353.3" y="161.6">16.7</text><text x="428" y="161.6" text-anchor="end">18</text>
</g>
<text x="288.6" y="143" font-size="7.5px" fill="#111" stroke="#111" stroke-width="0.2">A</text>
<text x="332.8" y="143" font-size="7px" class="g">B</text>
<text x="374.4" y="143" font-size="7.5px" fill="#111" stroke="#111" stroke-width="0.2">A*</text>
<text x="418.4" y="143" font-size="7px" class="g">B*</text>
<text x="253.6" y="92.5" class="tk" text-anchor="start">10<tspan dy="-2.9" font-size="4.2px">4</tspan></text>
<text x="342" y="92.5" class="tk" text-anchor="start">10<tspan dy="-2.9" font-size="4.2px">4</tspan></text>
<text x="253.6" y="110.6" class="tk" text-anchor="start">10<tspan dy="-2.9" font-size="4.2px">3</tspan></text>
<text x="342" y="110.6" class="tk" text-anchor="start">10<tspan dy="-2.9" font-size="4.2px">3</tspan></text>
<text x="253.6" y="129.8" class="tk" text-anchor="start">10<tspan dy="-2.9" font-size="4.2px">2</tspan></text>
<text x="342" y="129.8" class="tk" text-anchor="start">10<tspan dy="-2.9" font-size="4.2px">2</tspan></text>
<text x="253.6" y="148.2" class="tk" text-anchor="start">10<tspan dy="-2.9" font-size="4.2px">1</tspan></text>
<text x="342" y="148.2" class="tk" text-anchor="start">10<tspan dy="-2.9" font-size="4.2px">1</tspan></text>
<text x="254.8" y="166.7" class="tk" text-anchor="start">10<tspan dy="-2.9" font-size="4.2px">0</tspan></text>
<text x="343.2" y="166.7" class="tk" text-anchor="start">10<tspan dy="-2.9" font-size="4.2px">0</tspan></text>
<text x="259.4" y="171.6" class="tk" text-anchor="start">10<tspan dy="-2.9" font-size="4.2px">0</tspan></text>
<text x="277" y="171.6" class="tk" text-anchor="start">10<tspan dy="-2.9" font-size="4.2px">1</tspan></text>
<text x="296.3" y="171.6" class="tk" text-anchor="start">10<tspan dy="-2.9" font-size="4.2px">2</tspan></text>
<text x="315" y="171.6" class="tk" text-anchor="start">10<tspan dy="-2.9" font-size="4.2px">3</tspan></text>
<text x="333.2" y="171.6" class="tk" text-anchor="start">10<tspan dy="-2.9" font-size="4.2px">4</tspan></text>
<text x="348.3" y="171.6" class="tk" text-anchor="start">10<tspan dy="-2.9" font-size="4.2px">0</tspan></text>
<text x="366.8" y="171.6" class="tk" text-anchor="start">10<tspan dy="-2.9" font-size="4.2px">1</tspan></text>
<text x="385.6" y="171.6" class="tk" text-anchor="start">10<tspan dy="-2.9" font-size="4.2px">2</tspan></text>
<text x="404.2" y="171.6" class="tk" text-anchor="start">10<tspan dy="-2.9" font-size="4.2px">3</tspan></text>
<text x="422" y="171.6" class="tk" text-anchor="start">10<tspan dy="-2.9" font-size="4.2px">4</tspan></text>
<path d="M249.8 88.8V162.2" stroke="#5252b8" stroke-width="1"/>
<text transform="translate(246.2 165.5) rotate(-90)" font-size="6.4px" fill="#3434b8" stroke="#3434b8" stroke-width="0.15">(Annexin V-APC)</text>
<path d="M263.9 173.6H426" stroke="#5ad85a" stroke-width="1"/>
<text x="263.4" y="182.3" font-size="6.8px" fill="#6fd86f">(GFP)</text>
<path d="M428.6 88.3Q432.4 88.3 432.4 92.5V120.5Q432.4 124.2 435 124.5Q432.4 124.8 432.4 128.5V159Q432.4 163.2 428.6 163.2" stroke="#222" stroke-width="0.8" fill="none"/>
<text x="435" y="124.9" class="t95">SI = 0.944</text>
<g class="f7">
<text x="240.6" y="199.8">S<tspan dy="-2.2" font-size="5px">-</tspan><tspan dy="2.2"> =</tspan></text>
<text x="265" y="195.8" text-anchor="middle">A*x 100</text>
<text x="265" y="205.6" text-anchor="middle">A</text>
<path d="M252.4 198.7H277.4" stroke="#222" stroke-width="0.6"/>
<text x="273.2" y="199.8">= Survival in GFP<tspan dy="-2.2" font-size="5px">-</tspan><tspan dy="2.2"> population upon BCR-crosslinking</tspan></text>
<text x="240.6" y="219.8">S<tspan dy="-2.2" font-size="5px">+</tspan><tspan dy="2.2">=</tspan></text>
<text x="265" y="215.6" text-anchor="middle" class="g">B*x 100</text>
<text x="265" y="225.8" text-anchor="middle" class="g">B</text>
<path d="M252.4 218.6H277.4" stroke="#58d458" stroke-width="0.6"/>
<text x="273.2" y="219.8">= Survival in <tspan class="g">GFP</tspan><tspan dy="-2.2" font-size="5px" class="g">+</tspan><tspan dy="2.2"> population upon BCR-crosslinking</tspan></text>
<text x="447.4" y="206.4" text-anchor="middle">S<tspan dy="-2.2" font-size="5px">-</tspan></text>
<text x="447.4" y="217.4" text-anchor="middle">S<tspan dy="-2.2" font-size="5px">+</tspan></text>
<path d="M442.6 208.9H452.4" stroke="#222" stroke-width="0.6"/>
<text x="456" y="211.3">= Survival Index (SI)</text>
</g>
<path d="M436.3 186.3Q440 186.3 440 190.5V204.6Q440 208.4 442.3 208.8Q440 209.2 440 213V227Q440 231.3 436.3 231.3" stroke="#222" stroke-width="0.8" fill="none"/>
<g class="f75">
<rect x="243.7" y="230.5" width="3.4" height="3.4" fill="#111"/>
<text x="251" y="235">SI = 1 (shRNAi with no effect)</text>
<rect x="243.7" y="239.6" width="3.4" height="3.4" fill="#111"/>
<text x="251" y="244.1">SI ≥ 1 (shRNAi with proapoptotic effect)</text>
<rect x="243.7" y="248.7" width="3.4" height="3.4" fill="#111"/>
<text x="251" y="253.2">SI ≤ 1 (shRNAi with antiapoptotic effect)</text>
</g>
<path d="M351.7 444.4L346.8 451V643.5L353.8 648.6" stroke="#333" stroke-width="0.8" fill="none"/>
<rect x="355.6" y="447.5" width="134.2" height="199" fill="#fff" stroke="#4a4a4a" stroke-width="0.9"/>
<text x="358.4" y="461" font-size="13px" font-weight="bold" fill="#111">C</text>
<g font-size="9.6px" fill="#1a1a1a" stroke="#1a1a1a" stroke-width="0.15">
<text transform="translate(367.4 494) rotate(-19.2)">Sramble shRNAi</text>
<text transform="translate(399 491.6) rotate(-19.5)">MCL-1 shRNAi</text>
<text transform="translate(430.4 490) rotate(-18.5)">Empty vector</text>
</g>
<rect x="364.3" y="497.4" width="78.3" height="52" fill="#b2b2b2"/>
<g clip-path="url(#cb1)">
<g filter="url(#b3)"><rect x="364" y="497" width="30" height="18" fill="#bdbdbd"/><rect x="398" y="528" width="46" height="22" fill="#a9a9a9"/><rect x="364" y="530" width="30" height="20" fill="#b6b6b6"/></g>
<rect x="364.3" y="497.4" width="78.3" height="52" filter="url(#nz)" opacity="0.5"/>
<g filter="url(#b1)"><rect x="365.4" y="518.7" width="23.4" height="4" rx="2" fill="#222"/><rect x="381" y="520.6" width="7.5" height="3.2" rx="1.6" fill="#262626"/><rect x="392.2" y="519.2" width="23" height="3.3" rx="1.6" fill="#2c2c2c"/><rect x="420" y="519.6" width="21" height="2.5" rx="1.2" fill="#444"/></g></g>
<rect x="364.3" y="497.4" width="78.3" height="52" fill="none" stroke="#2e2e2e" stroke-width="0.9"/>
<path d="M445.2 520.9L453 517.2V524.6Z" fill="#111"/>
<text x="456" y="524.3" class="t95" style="font-size:9.1px">Actin</text>
<rect x="363.9" y="561" width="78.7" height="74.3" fill="#a6a6a6"/>
<g clip-path="url(#cb2)">
<g filter="url(#b3)"><rect x="391.8" y="575" width="4.6" height="62" fill="#b0b0b0"/><rect x="415.8" y="575" width="4.2" height="62" fill="#aeaeae"/><rect x="364" y="608" width="80" height="28" fill="#afafaf"/><rect x="366" y="561" width="24" height="12" fill="#8c8c8c"/><rect x="397" y="561" width="18" height="16" fill="#909090"/><rect x="420" y="561" width="22" height="12" fill="#8c8c8c"/></g>
<rect x="363.9" y="561" width="78.7" height="74.3" filter="url(#nz)" opacity="0.6"/>
<g filter="url(#b2)"><rect x="366.6" y="593.8" width="23.4" height="7.6" rx="3.5" fill="#2a2a2a"/><rect x="380.5" y="596.5" width="9.6" height="7.6" rx="3.5" fill="#262626"/><rect x="421" y="593.6" width="20.6" height="8.6" rx="4" fill="#202020"/><rect x="398" y="597.6" width="13" height="4.4" rx="2.2" fill="#6a6a6a"/></g>
<g filter="url(#b1)"><rect x="369.5" y="596.2" width="10" height="1.8" rx="0.9" fill="#707070"/></g>
<g filter="url(#b15)"><rect x="367.4" y="579" width="21" height="2.4" rx="1.2" fill="#4c4c4c"/><rect x="375" y="579" width="9" height="2.6" rx="1.2" fill="#3a3a3a"/><rect x="377.5" y="585" width="10.6" height="3" rx="1.4" fill="#747474"/><rect x="421.5" y="579.4" width="17" height="2.4" rx="1.2" fill="#555"/><rect x="434.6" y="577.8" width="5" height="4.6" rx="2.2" fill="#2e2e2e"/><rect x="397.5" y="570.4" width="13.5" height="4.6" rx="2" fill="#858585"/><rect x="398.5" y="563" width="9" height="4" rx="2" fill="#8c8c8c"/><rect x="369" y="564.6" width="3.6" height="3.2" rx="1.6" fill="#b6b6b6"/><rect x="422.6" y="564.6" width="3.6" height="3.2" rx="1.6" fill="#b6b6b6"/></g></g>
<rect x="363.9" y="561" width="78.7" height="74.3" fill="none" stroke="#2e2e2e" stroke-width="0.9"/>
<path d="M444.8 597.6L452.6 593.9V601.3Z" fill="#111"/>
<text x="453.8" y="601" class="t95">MCL1</text>
</svg></body></html>
